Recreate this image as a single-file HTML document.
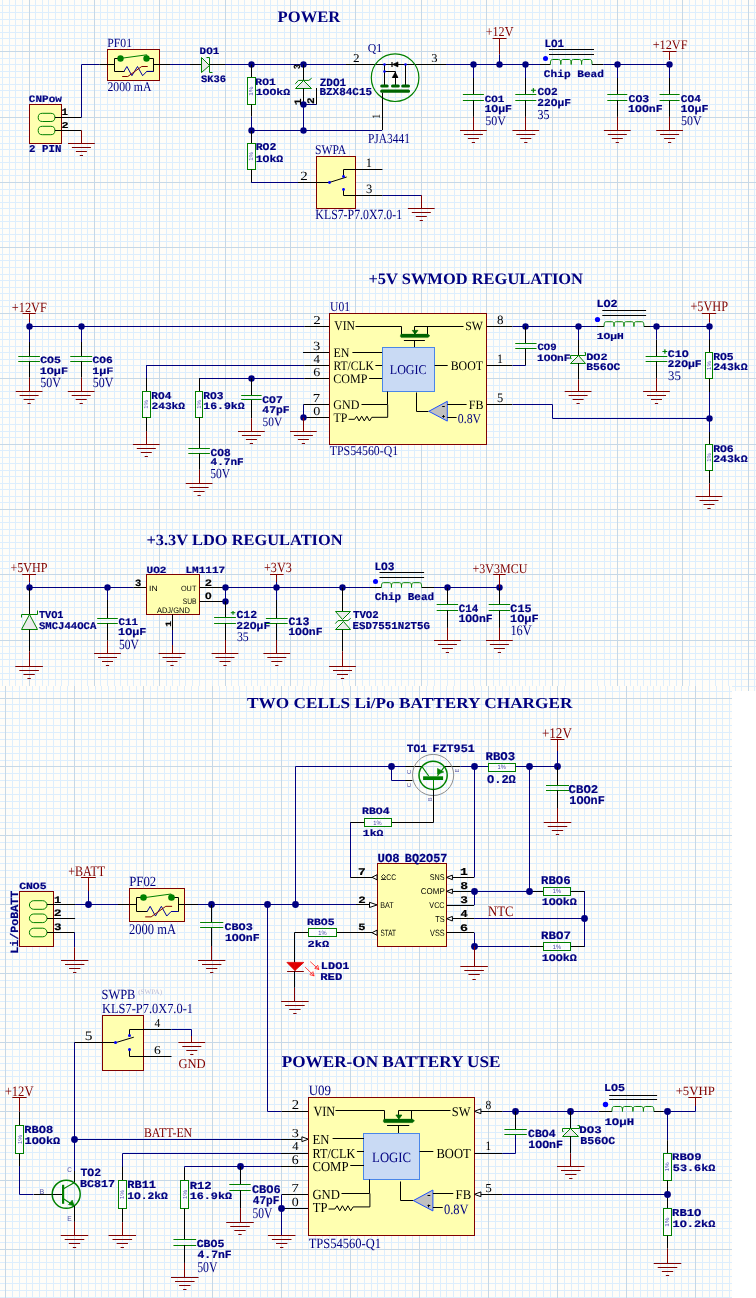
<!DOCTYPE html>
<html><head><meta charset="utf-8"><style>
html,body{margin:0;padding:0;background:#fff;overflow:hidden;}
svg{display:block;will-change:transform;}
</style></head><body>
<svg width="756" height="1298" viewBox="0 0 756 1298" shape-rendering="auto" text-rendering="geometricPrecision">
<rect x="0" y="0" width="756" height="1298" fill="#FFFFFF"/>
<rect x="0" y="0" width="756" height="691" fill="#FFFDF8"/>
<path d="M2.5 0V691M9.5 0V691M15.5 0V691M22.5 0V691M35.5 0V691M42.5 0V691M48.5 0V691M55.5 0V691M61.5 0V691M68.5 0V691M74.5 0V691M81.5 0V691M87.5 0V691M100.5 0V691M107.5 0V691M114.5 0V691M120.5 0V691M127.5 0V691M133.5 0V691M140.5 0V691M146.5 0V691M153.5 0V691M166.5 0V691M172.5 0V691M179.5 0V691M185.5 0V691M192.5 0V691M199.5 0V691M205.5 0V691M212.5 0V691M218.5 0V691M231.5 0V691M238.5 0V691M244.5 0V691M251.5 0V691M257.5 0V691M264.5 0V691M270.5 0V691M277.5 0V691M284.5 0V691M297.5 0V691M303.5 0V691M310.5 0V691M316.5 0V691M323.5 0V691M329.5 0V691M336.5 0V691M342.5 0V691M349.5 0V691M362.5 0V691M369.5 0V691M375.5 0V691M382.5 0V691M388.5 0V691M395.5 0V691M401.5 0V691M408.5 0V691M414.5 0V691M427.5 0V691M434.5 0V691M440.5 0V691M447.5 0V691M454.5 0V691M460.5 0V691M467.5 0V691M473.5 0V691M480.5 0V691M493.5 0V691M499.5 0V691M506.5 0V691M512.5 0V691M519.5 0V691M525.5 0V691M532.5 0V691M539.5 0V691M545.5 0V691M558.5 0V691M565.5 0V691M571.5 0V691M578.5 0V691M584.5 0V691M591.5 0V691M597.5 0V691M604.5 0V691M610.5 0V691M624.5 0V691M630.5 0V691M637.5 0V691M643.5 0V691M650.5 0V691M656.5 0V691M663.5 0V691M669.5 0V691M676.5 0V691M689.5 0V691M695.5 0V691M702.5 0V691M709.5 0V691M715.5 0V691M722.5 0V691M728.5 0V691M735.5 0V691M741.5 0V691M754.5 0V691M0 5.5H756M0 12.5H756M0 19.5H756M0 25.5H756M0 32.5H756M0 38.5H756M0 45.5H756M0 58.5H756M0 64.5H756M0 71.5H756M0 77.5H756M0 84.5H756M0 90.5H756M0 97.5H756M0 104.5H756M0 110.5H756M0 123.5H756M0 130.5H756M0 136.5H756M0 143.5H756M0 149.5H756M0 156.5H756M0 162.5H756M0 169.5H756M0 175.5H756M0 189.5H756M0 195.5H756M0 202.5H756M0 208.5H756M0 215.5H756M0 221.5H756M0 228.5H756M0 234.5H756M0 241.5H756M0 254.5H756M0 260.5H756M0 267.5H756M0 274.5H756M0 280.5H756M0 287.5H756M0 293.5H756M0 300.5H756M0 306.5H756M0 319.5H756M0 326.5H756M0 332.5H756M0 339.5H756M0 346.5H756M0 352.5H756M0 359.5H756M0 365.5H756M0 372.5H756M0 385.5H756M0 391.5H756M0 398.5H756M0 404.5H756M0 411.5H756M0 417.5H756M0 424.5H756M0 431.5H756M0 437.5H756M0 450.5H756M0 457.5H756M0 463.5H756M0 470.5H756M0 476.5H756M0 483.5H756M0 489.5H756M0 496.5H756M0 502.5H756M0 516.5H756M0 522.5H756M0 529.5H756M0 535.5H756M0 542.5H756M0 548.5H756M0 555.5H756M0 561.5H756M0 568.5H756M0 581.5H756M0 587.5H756M0 594.5H756M0 601.5H756M0 607.5H756M0 614.5H756M0 620.5H756M0 627.5H756M0 633.5H756M0 646.5H756M0 653.5H756M0 659.5H756M0 666.5H756M0 673.5H756M0 679.5H756M0 686.5H756" stroke="#DDEEFD" stroke-width="1" fill="none"/>
<path d="M29.5 0V691M94.5 0V691M159.5 0V691M225.5 0V691M290.5 0V691M355.5 0V691M421.5 0V691M486.5 0V691M552.5 0V691M617.5 0V691M682.5 0V691M748.5 0V691M0 51.5H756M0 117.5H756M0 182.5H756M0 247.5H756M0 313.5H756M0 378.5H756M0 444.5H756M0 509.5H756M0 574.5H756M0 640.5H756" stroke="#C6D8E7" stroke-width="1" fill="none"/>
<text transform="translate(277.62,21.8) scale(1.0357,1)" font-family="Liberation Serif" font-weight="bold" font-size="16.01" fill="#000080">POWER</text>
<rect x="29.5" y="104.5" width="32" height="39" stroke="#800000" stroke-width="1" fill="#FFFFB0"/>
<text transform="translate(28.87,101.9) scale(1.1143,1)" font-family="Liberation Mono" font-weight="bold" font-size="9.87" fill="#000080" stroke="#000080" stroke-width="0.2">CNPow</text>
<rect x="38.2" y="113.3" width="16.7" height="8.2" rx="4.1" stroke="#008000" fill="none" stroke-width="1"/>
<rect x="38.2" y="126.3" width="16.7" height="8.4" rx="4.1" stroke="#008000" fill="none" stroke-width="1"/>
<line x1="54.9" y1="117.5" x2="81.4" y2="117.5" stroke="#000000" stroke-width="1"/>
<text transform="translate(61.57,114.9) scale(1.1127,1)" font-family="Liberation Mono" font-weight="bold" font-size="9.72" fill="#000000" stroke="#000000" stroke-width="0.2">1</text>
<polyline points="81.5,117.5 81.5,64.5 99.5,64.5" stroke="#000080" stroke-width="1" fill="none" stroke-linejoin="miter"/>
<line x1="54.9" y1="130.5" x2="81.4" y2="130.5" stroke="#000000" stroke-width="1"/>
<text transform="translate(61.59,127.6) scale(1.3424,1)" font-family="Liberation Mono" font-weight="bold" font-size="8.82" fill="#000000" stroke="#000000" stroke-width="0.2">2</text>
<line x1="81.5" y1="130.4" x2="81.5" y2="143.2" stroke="#800000" stroke-width="1"/>
<line x1="68" y1="143.5" x2="94.8" y2="143.5" stroke="#800000" stroke-width="1"/>
<line x1="71.9" y1="147.5" x2="90.9" y2="147.5" stroke="#800000" stroke-width="1"/>
<line x1="75.9" y1="151.5" x2="86.9" y2="151.5" stroke="#800000" stroke-width="1"/>
<line x1="79.8" y1="155.5" x2="83" y2="155.5" stroke="#800000" stroke-width="1"/>
<text transform="translate(29.05,152) scale(1.0306,1)" font-family="Liberation Mono" font-weight="bold" font-size="10.46" fill="#000080" stroke="#000080" stroke-width="0.2">2 PIN</text>
<text transform="translate(107.26,47) scale(0.9385,1)" font-family="Liberation Serif" font-weight="normal" font-size="12.48" fill="#000080">PF01</text>
<rect x="107.5" y="49.5" width="52" height="31" stroke="#800000" stroke-width="1" fill="#FFFFB0"/>
<line x1="99.5" y1="64.5" x2="114.4" y2="64.5" stroke="#000000" stroke-width="1"/>
<polyline points="120.5,58.5 114.5,58.5 114.5,71.5 124.5,71.5" stroke="#000000" stroke-width="1" fill="none" stroke-linejoin="miter"/>
<polyline points="146.5,58.5 153.5,58.5 153.5,71.5 146.5,71.5" stroke="#000000" stroke-width="1" fill="none" stroke-linejoin="miter"/>
<line x1="153.5" y1="64.5" x2="170" y2="64.5" stroke="#000000" stroke-width="1"/>
<line x1="170" y1="64.5" x2="190" y2="64.5" stroke="#000080" stroke-width="1"/>
<line x1="190" y1="64.5" x2="201.2" y2="64.5" stroke="#000000" stroke-width="1"/>
<polyline points="120.4,58.4 146.8,54.8 146.8,56" stroke="#008000" stroke-width="1" fill="none" stroke-linejoin="miter"/>
<circle cx="120.5" cy="58.5" r="3.2" fill="#008000"/>
<circle cx="146.5" cy="58.5" r="3.2" fill="#008000"/>
<polyline points="124,71.4 126.9,66.5 131.9,75.7 137.5,66.5 142.6,75.7 146.8,71.4 153.5,71.4" stroke="#0000A0" stroke-width="1" fill="none" stroke-linejoin="miter"/>
<polyline points="122.2,76.5 127.8,76.5 141.7,66.5 147.7,66.5" stroke="#800000" stroke-width="1" fill="none" stroke-linejoin="miter"/>
<text transform="translate(107.38,90.6) scale(0.8888,1)" font-family="Liberation Serif" font-weight="normal" font-size="13.23" fill="#000080">2000 mA</text>
<polygon points="201.5,57.5 201.5,72.5 209.5,65.5" stroke="#008000" stroke-width="1" fill="#EBEBEB" stroke-linejoin="miter"/>
<polyline points="206.5,57.5 209.5,57.5 209.5,72.5 212.5,72.5" stroke="#008000" stroke-width="1" fill="none" stroke-linejoin="miter"/>
<text transform="translate(199.58,53.9) scale(1.1083,1)" font-family="Liberation Mono" font-weight="bold" font-size="9.87" fill="#000080" stroke="#000080" stroke-width="0.2">DO1</text>
<text transform="translate(201.01,82) scale(1.0544,1)" font-family="Liberation Mono" font-weight="bold" font-size="9.87" fill="#000080" stroke="#000080" stroke-width="0.2">SK36</text>
<line x1="209.6" y1="64.5" x2="225" y2="64.5" stroke="#000000" stroke-width="1"/>
<line x1="225" y1="64.5" x2="346" y2="64.5" stroke="#000080" stroke-width="1"/>
<circle cx="251.5" cy="64.5" r="3.2" fill="#000080"/>
<line x1="251.5" y1="64.5" x2="251.5" y2="77.4" stroke="#000000" stroke-width="1"/>
<rect x="247.5" y="77.5" width="8" height="27" stroke="#008000" stroke-width="1" fill="#FFFFFF" fill-opacity="0.6"/>
<text transform="translate(253.2,95.65) rotate(-90) scale(1.0700,1)" font-family="Liberation Sans" font-weight="normal" font-size="5.91" fill="#5C5CB8">1%</text>
<line x1="251.5" y1="104.5" x2="251.5" y2="116.7" stroke="#000000" stroke-width="1"/>
<line x1="251.5" y1="116.7" x2="251.5" y2="130" stroke="#000080" stroke-width="1"/>
<text transform="translate(255.34,85) scale(1.1509,1)" font-family="Liberation Mono" font-weight="bold" font-size="9.87" fill="#000080" stroke="#000080" stroke-width="0.2">RO1</text>
<text transform="translate(255.63,95) scale(1.2384,1)" font-family="Liberation Mono" font-weight="bold" font-size="9.25" fill="#000080" stroke="#000080" stroke-width="0.2">1OOkΩ</text>
<circle cx="251.5" cy="130.5" r="3.2" fill="#000080"/>
<line x1="251.5" y1="130" x2="251.5" y2="143" stroke="#000000" stroke-width="1"/>
<rect x="247.5" y="143.5" width="8" height="26" stroke="#008000" stroke-width="1" fill="#FFFFFF" fill-opacity="0.6"/>
<text transform="translate(253.2,160.84) rotate(-90) scale(1.0463,1)" font-family="Liberation Sans" font-weight="normal" font-size="5.91" fill="#5C5CB8">1%</text>
<line x1="251.5" y1="169.5" x2="251.5" y2="182.2" stroke="#000000" stroke-width="1"/>
<line x1="251.1" y1="182.5" x2="298" y2="182.5" stroke="#000080" stroke-width="1"/>
<text transform="translate(255.63,150.2) scale(1.1172,1)" font-family="Liberation Mono" font-weight="bold" font-size="10.31" fill="#000080" stroke="#000080" stroke-width="0.2">RO2</text>
<text transform="translate(255.63,161.5) scale(1.1718,1)" font-family="Liberation Mono" font-weight="bold" font-size="9.8" fill="#000080" stroke="#000080" stroke-width="0.2">1OkΩ</text>
<line x1="251.1" y1="130.5" x2="382.2" y2="130.5" stroke="#000080" stroke-width="1"/>
<circle cx="303.5" cy="64.5" r="3.2" fill="#000080"/>
<line x1="303.5" y1="64.6" x2="303.5" y2="80.4" stroke="#000000" stroke-width="1"/>
<polygon points="303.5,80.5 295.5,88.5 311.5,88.5" stroke="#008000" stroke-width="1" fill="#EBEBEB" stroke-linejoin="miter"/>
<polyline points="295.3,83.8 298.4,80.4 308.8,80.4 311.7,78.2" stroke="#008000" stroke-width="1" fill="none" stroke-linejoin="miter"/>
<line x1="303.5" y1="88.3" x2="303.5" y2="104.1" stroke="#000000" stroke-width="1"/>
<circle cx="303.5" cy="104.5" r="3.2" fill="#000080"/>
<line x1="303.5" y1="104.5" x2="316.6" y2="104.5" stroke="#000080" stroke-width="1"/>
<line x1="316.5" y1="104.5" x2="316.5" y2="88" stroke="#000000" stroke-width="1"/>
<line x1="303.5" y1="104.1" x2="303.5" y2="130" stroke="#000080" stroke-width="1"/>
<circle cx="303.5" cy="130.5" r="3.2" fill="#000080"/>
<text transform="translate(300.4,68.96) rotate(-90) scale(0.8565,1)" font-family="Liberation Mono" font-weight="bold" font-size="9.27" fill="#000000" stroke="#000000" stroke-width="0.2">3</text>
<text transform="translate(300.9,105.27) rotate(-90) scale(1.1757,1)" font-family="Liberation Mono" font-weight="bold" font-size="9.72" fill="#000000" stroke="#000000" stroke-width="0.2">1</text>
<text transform="translate(314.1,104.06) rotate(-90) scale(1.0991,1)" font-family="Liberation Mono" font-weight="bold" font-size="10.02" fill="#000000" stroke="#000000" stroke-width="0.2">2</text>
<text transform="translate(319.73,85.6) scale(0.9995,1)" font-family="Liberation Mono" font-weight="bold" font-size="11.06" fill="#000080" stroke="#000080" stroke-width="0.2">ZDO1</text>
<text transform="translate(319.47,95.4) scale(1.0323,1)" font-family="Liberation Mono" font-weight="bold" font-size="10.61" fill="#000080" stroke="#000080" stroke-width="0.2">BZX84C15</text>
<text transform="translate(367.82,51.8) scale(0.9745,1)" font-family="Liberation Serif" font-weight="normal" font-size="12.08" fill="#000080">Q1</text>
<line x1="346" y1="64.5" x2="446" y2="64.5" stroke="#000000" stroke-width="1"/>
<text transform="translate(353.12,62.3) scale(1.1081,1)" font-family="Liberation Serif" font-weight="normal" font-size="11.93" fill="#000000">2</text>
<text transform="translate(431.2,62.3) scale(1.0550,1)" font-family="Liberation Serif" font-weight="normal" font-size="11.93" fill="#000000">3</text>
<circle cx="395.1" cy="77.7" r="23.8" stroke="#008000" stroke-width="1.2" fill="none"/>
<line x1="384.5" y1="64.4" x2="384.5" y2="85.7" stroke="#000000" stroke-width="1"/>
<line x1="405.5" y1="64.4" x2="405.5" y2="85.7" stroke="#000000" stroke-width="1"/>
<line x1="395.5" y1="71.4" x2="395.5" y2="85.7" stroke="#000000" stroke-width="1"/>
<line x1="384.5" y1="71.5" x2="395.4" y2="71.5" stroke="#000000" stroke-width="1"/>
<circle cx="384.5" cy="64.5" r="1.3" fill="#0000FF"/>
<circle cx="405.5" cy="64.5" r="1.3" fill="#0000FF"/>
<circle cx="384.5" cy="71.5" r="1.3" fill="#0000FF"/>
<line x1="392" y1="62" x2="392" y2="67" stroke="#000000" stroke-width="1.2"/>
<polygon points="392.6,64.4 398,61.9 398,66.9" stroke="#000000" stroke-width="0.6" fill="#000000" stroke-linejoin="miter"/>
<polygon points="395.2,72.2 392.4,77.4 398,77.4" stroke="#000000" stroke-width="0.6" fill="#000000" stroke-linejoin="miter"/>
<line x1="392.4" y1="77.5" x2="398" y2="77.5" stroke="#000000" stroke-width="1"/>
<rect x="380.2" y="84.4" width="8.5" height="3.2" rx="1.5" fill="#006400"/>
<rect x="391" y="84.4" width="8.8" height="3.2" rx="1.5" fill="#006400"/>
<rect x="401.2" y="84.4" width="8.8" height="3.2" rx="1.5" fill="#006400"/>
<rect x="380.2" y="89.4" width="29.8" height="3.3" rx="1.5" fill="#006400"/>
<line x1="382.5" y1="92.7" x2="382.5" y2="130" stroke="#000000" stroke-width="1"/>
<text transform="translate(379.6,118.85) rotate(-90) scale(0.8389,1)" font-family="Liberation Serif" font-weight="normal" font-size="11.51" fill="#000000">1</text>
<text transform="translate(367.97,143) scale(0.8245,1)" font-family="Liberation Serif" font-weight="normal" font-size="13.89" fill="#000080">PJA3441</text>
<text transform="translate(314.92,154.4) scale(0.8765,1)" font-family="Liberation Serif" font-weight="normal" font-size="13.29" fill="#000080">SWPA</text>
<rect x="316.5" y="156.5" width="39" height="52" stroke="#800000" stroke-width="1" fill="#FFFFB0"/>
<line x1="298" y1="182.5" x2="329.6" y2="182.5" stroke="#000000" stroke-width="1"/>
<line x1="329.6" y1="182.4" x2="346.7" y2="177" stroke="#000000" stroke-width="1"/>
<polyline points="343.5,176.5 343.5,169.5 382.5,169.5" stroke="#000000" stroke-width="1" fill="none" stroke-linejoin="miter"/>
<polyline points="343.5,189.5 343.5,195.5 382.5,195.5" stroke="#000000" stroke-width="1" fill="none" stroke-linejoin="miter"/>
<line x1="382.4" y1="195.5" x2="421.3" y2="195.5" stroke="#000080" stroke-width="1"/>
<line x1="421.5" y1="195.2" x2="421.5" y2="208.1" stroke="#800000" stroke-width="1"/>
<line x1="407.9" y1="208.5" x2="434.7" y2="208.5" stroke="#800000" stroke-width="1"/>
<line x1="411.8" y1="212.5" x2="430.8" y2="212.5" stroke="#800000" stroke-width="1"/>
<line x1="415.8" y1="216.5" x2="426.8" y2="216.5" stroke="#800000" stroke-width="1"/>
<line x1="419.7" y1="220.5" x2="422.9" y2="220.5" stroke="#800000" stroke-width="1"/>
<circle cx="329.5" cy="182.5" r="1.4" fill="#0000FF"/>
<circle cx="343.5" cy="176.5" r="1.4" fill="#0000FF"/>
<circle cx="343.5" cy="189.5" r="1.4" fill="#0000FF"/>
<text transform="translate(365.8,166.9) scale(0.9822,1)" font-family="Liberation Serif" font-weight="normal" font-size="12.72" fill="#000000">1</text>
<text transform="translate(366.1,192.8) scale(0.9922,1)" font-family="Liberation Serif" font-weight="normal" font-size="12.69" fill="#000000">3</text>
<text transform="translate(300.34,179.8) scale(1.1940,1)" font-family="Liberation Serif" font-weight="normal" font-size="12.54" fill="#000000">2</text>
<text transform="translate(315.36,218.7) scale(0.8469,1)" font-family="Liberation Serif" font-weight="normal" font-size="13.98" fill="#000080">KLS7-P7.0X7.0-1</text>
<line x1="446" y1="64.5" x2="540" y2="64.5" stroke="#000080" stroke-width="1"/>
<text transform="translate(485.7,36.4) scale(0.8927,1)" font-family="Liberation Serif" font-weight="normal" font-size="13.59" fill="#800000">+12V</text>
<line x1="492.6" y1="38.5" x2="506.6" y2="38.5" stroke="#800000" stroke-width="1"/>
<line x1="499.5" y1="38.5" x2="499.5" y2="54.4" stroke="#800000" stroke-width="1"/>
<line x1="499.5" y1="54.4" x2="499.5" y2="64.6" stroke="#000080" stroke-width="1"/>
<circle cx="473.5" cy="64.5" r="3.2" fill="#000080"/>
<circle cx="499.5" cy="64.5" r="3.2" fill="#000080"/>
<circle cx="525.5" cy="64.5" r="3.2" fill="#000080"/>
<line x1="473.5" y1="64.6" x2="473.5" y2="78" stroke="#000080" stroke-width="1"/>
<line x1="473.5" y1="78" x2="473.5" y2="94.3" stroke="#000000" stroke-width="1"/>
<line x1="462.9" y1="94.5" x2="483.9" y2="94.5" stroke="#008000" stroke-width="1"/>
<line x1="462.9" y1="100.5" x2="483.9" y2="100.5" stroke="#008000" stroke-width="1"/>
<line x1="473.5" y1="100.4" x2="473.5" y2="116.9" stroke="#000000" stroke-width="1"/>
<line x1="473.5" y1="116.9" x2="473.5" y2="130.4" stroke="#800000" stroke-width="1"/>
<line x1="460" y1="130.5" x2="486.8" y2="130.5" stroke="#800000" stroke-width="1"/>
<line x1="463.9" y1="134.5" x2="482.9" y2="134.5" stroke="#800000" stroke-width="1"/>
<line x1="467.9" y1="138.5" x2="478.9" y2="138.5" stroke="#800000" stroke-width="1"/>
<line x1="471.8" y1="142.5" x2="475" y2="142.5" stroke="#800000" stroke-width="1"/>
<text transform="translate(484.78,101.8) scale(1.1491,1)" font-family="Liberation Mono" font-weight="bold" font-size="9.42" fill="#000080" stroke="#000080" stroke-width="0.2">CO1</text>
<text transform="translate(484.43,112.1) scale(1.0819,1)" font-family="Liberation Mono" font-weight="bold" font-size="10.61" fill="#000080" stroke="#000080" stroke-width="0.2">1OμF</text>
<text transform="translate(485.3,124.8) scale(0.9157,1)" font-family="Liberation Serif" font-weight="normal" font-size="13.08" fill="#000080">50V</text>
<line x1="525.5" y1="64.6" x2="525.5" y2="78" stroke="#000080" stroke-width="1"/>
<line x1="525.5" y1="78" x2="525.5" y2="94.3" stroke="#000000" stroke-width="1"/>
<line x1="515.3" y1="94.5" x2="536.3" y2="94.5" stroke="#008000" stroke-width="1"/>
<line x1="515.3" y1="100.5" x2="536.3" y2="100.5" stroke="#008000" stroke-width="1"/>
<line x1="525.5" y1="100.4" x2="525.5" y2="116.9" stroke="#000000" stroke-width="1"/>
<line x1="525.5" y1="116.9" x2="525.5" y2="130.4" stroke="#800000" stroke-width="1"/>
<line x1="512.4" y1="130.5" x2="539.2" y2="130.5" stroke="#800000" stroke-width="1"/>
<line x1="516.3" y1="134.5" x2="535.3" y2="134.5" stroke="#800000" stroke-width="1"/>
<line x1="520.3" y1="138.5" x2="531.3" y2="138.5" stroke="#800000" stroke-width="1"/>
<line x1="524.2" y1="142.5" x2="527.4" y2="142.5" stroke="#800000" stroke-width="1"/>
<text transform="translate(530.86,93.3) scale(1.1197,1)" font-family="Liberation Mono" font-weight="bold" font-size="8.01" fill="#008000" stroke="#008000" stroke-width="0.2">+</text>
<text transform="translate(537.56,95.4) scale(1.0514,1)" font-family="Liberation Mono" font-weight="bold" font-size="10.61" fill="#000080" stroke="#000080" stroke-width="0.2">CO2</text>
<text transform="translate(537.33,105.9) scale(1.0533,1)" font-family="Liberation Mono" font-weight="bold" font-size="10.61" fill="#000080" stroke="#000080" stroke-width="0.2">22OμF</text>
<text transform="translate(537.42,119.2) scale(0.8863,1)" font-family="Liberation Serif" font-weight="normal" font-size="13.59" fill="#000080">35</text>
<text transform="translate(544.48,46.5) scale(0.9702,1)" font-family="Liberation Mono" font-weight="bold" font-size="11.21" fill="#000080" stroke="#000080" stroke-width="0.2">LO1</text>
<line x1="549" y1="49.5" x2="594" y2="49.5" stroke="#000000" stroke-width="1"/>
<line x1="549" y1="54.5" x2="594" y2="54.5" stroke="#000000" stroke-width="1"/>
<circle cx="545.5" cy="58.5" r="2.5" fill="#0000FF"/>
<line x1="540" y1="64.5" x2="550.4" y2="64.5" stroke="#000000" stroke-width="1"/>
<path d="M550.4 64.5 c0 -3.99 0.52 -4.99 2.29 -4.99 l5.82 0 c1.77 0 2.29 1 2.29 4.99 c0 -3.99 0.52 -4.99 2.29 -4.99 l5.82 0 c1.77 0 2.29 1 2.29 4.99 c0 -3.99 0.52 -4.99 2.29 -4.99 l5.82 0 c1.77 0 2.29 1 2.29 4.99 c0 -3.99 0.52 -4.99 2.29 -4.99 l5.82 0 c1.77 0 2.29 1 2.29 4.99" stroke="#008000" stroke-width="1" fill="none"/>
<line x1="592" y1="64.5" x2="603.3" y2="64.5" stroke="#000000" stroke-width="1"/>
<line x1="603.3" y1="64.5" x2="669.6" y2="64.5" stroke="#000080" stroke-width="1"/>
<text transform="translate(543.86,76.7) scale(1.1217,1)" font-family="Liberation Mono" font-weight="bold" font-size="9.94" fill="#000080" stroke="#000080" stroke-width="0.2">Chip Bead</text>
<line x1="617.5" y1="64.6" x2="617.5" y2="78" stroke="#000080" stroke-width="1"/>
<line x1="617.5" y1="78" x2="617.5" y2="94.5" stroke="#000000" stroke-width="1"/>
<line x1="607.3" y1="94.5" x2="627.3" y2="94.5" stroke="#008000" stroke-width="1"/>
<line x1="607.3" y1="100.5" x2="627.3" y2="100.5" stroke="#008000" stroke-width="1"/>
<line x1="617.5" y1="100.3" x2="617.5" y2="116.9" stroke="#000000" stroke-width="1"/>
<line x1="617.5" y1="116.9" x2="617.5" y2="130.4" stroke="#800000" stroke-width="1"/>
<line x1="603.9" y1="130.5" x2="630.7" y2="130.5" stroke="#800000" stroke-width="1"/>
<line x1="607.8" y1="134.5" x2="626.8" y2="134.5" stroke="#800000" stroke-width="1"/>
<line x1="611.8" y1="138.5" x2="622.8" y2="138.5" stroke="#800000" stroke-width="1"/>
<line x1="615.7" y1="142.5" x2="618.9" y2="142.5" stroke="#800000" stroke-width="1"/>
<text transform="translate(628.45,102) scale(1.1062,1)" font-family="Liberation Mono" font-weight="bold" font-size="10.46" fill="#000080" stroke="#000080" stroke-width="0.2">CO3</text>
<text transform="translate(628.12,112) scale(1.1010,1)" font-family="Liberation Mono" font-weight="bold" font-size="10.46" fill="#000080" stroke="#000080" stroke-width="0.2">1OOnF</text>
<line x1="669.5" y1="64.6" x2="669.5" y2="78" stroke="#000080" stroke-width="1"/>
<line x1="669.5" y1="78" x2="669.5" y2="94.5" stroke="#000000" stroke-width="1"/>
<line x1="659.6" y1="94.5" x2="679.6" y2="94.5" stroke="#008000" stroke-width="1"/>
<line x1="659.6" y1="100.5" x2="679.6" y2="100.5" stroke="#008000" stroke-width="1"/>
<line x1="669.5" y1="100.3" x2="669.5" y2="116.9" stroke="#000000" stroke-width="1"/>
<line x1="669.5" y1="116.9" x2="669.5" y2="130.4" stroke="#800000" stroke-width="1"/>
<line x1="656.2" y1="130.5" x2="683" y2="130.5" stroke="#800000" stroke-width="1"/>
<line x1="660.1" y1="134.5" x2="679.1" y2="134.5" stroke="#800000" stroke-width="1"/>
<line x1="664.1" y1="138.5" x2="675.1" y2="138.5" stroke="#800000" stroke-width="1"/>
<line x1="668" y1="142.5" x2="671.2" y2="142.5" stroke="#800000" stroke-width="1"/>
<text transform="translate(680.86,102) scale(1.0652,1)" font-family="Liberation Mono" font-weight="bold" font-size="10.46" fill="#000080" stroke="#000080" stroke-width="0.2">CO4</text>
<text transform="translate(680.52,112) scale(1.1100,1)" font-family="Liberation Mono" font-weight="bold" font-size="10.46" fill="#000080" stroke="#000080" stroke-width="0.2">1OμF</text>
<text transform="translate(681,124.8) scale(0.9053,1)" font-family="Liberation Serif" font-weight="normal" font-size="13.23" fill="#000080">50V</text>
<circle cx="617.5" cy="64.5" r="3.2" fill="#000080"/>
<circle cx="669.5" cy="64.5" r="3.2" fill="#000080"/>
<text transform="translate(652.69,49.1) scale(0.9441,1)" font-family="Liberation Serif" font-weight="normal" font-size="12.99" fill="#800000">+12VF</text>
<line x1="662.6" y1="51.5" x2="676.6" y2="51.5" stroke="#800000" stroke-width="1"/>
<line x1="669.5" y1="51.4" x2="669.5" y2="60" stroke="#800000" stroke-width="1"/>
<text transform="translate(368.43,283.8) scale(1.0380,1)" font-family="Liberation Serif" font-weight="bold" font-size="15.86" fill="#000080">+5V SWMOD REGULATION</text>
<text transform="translate(11.79,311.6) scale(0.8756,1)" font-family="Liberation Serif" font-weight="normal" font-size="14.05" fill="#800000">+12VF</text>
<line x1="22.5" y1="313.5" x2="35.7" y2="313.5" stroke="#800000" stroke-width="1"/>
<line x1="29.5" y1="313.7" x2="29.5" y2="322.2" stroke="#800000" stroke-width="1"/>
<line x1="29.5" y1="322.2" x2="29.5" y2="326.4" stroke="#000080" stroke-width="1"/>
<line x1="29.1" y1="326.5" x2="304.3" y2="326.5" stroke="#000080" stroke-width="1"/>
<line x1="304.3" y1="326.5" x2="329.5" y2="326.5" stroke="#000000" stroke-width="1"/>
<circle cx="29.5" cy="326.5" r="3.2" fill="#000080"/>
<circle cx="81.5" cy="326.5" r="3.2" fill="#000080"/>
<line x1="29.5" y1="326.4" x2="29.5" y2="342" stroke="#000080" stroke-width="1"/>
<line x1="29.5" y1="342" x2="29.5" y2="356.6" stroke="#000000" stroke-width="1"/>
<line x1="18.25" y1="356.5" x2="39.95" y2="356.5" stroke="#008000" stroke-width="1"/>
<line x1="18.25" y1="361.5" x2="39.95" y2="361.5" stroke="#008000" stroke-width="1"/>
<line x1="29.5" y1="361.3" x2="29.5" y2="377.7" stroke="#000000" stroke-width="1"/>
<line x1="29.5" y1="377.7" x2="29.5" y2="391.2" stroke="#800000" stroke-width="1"/>
<line x1="15.7" y1="391.5" x2="42.5" y2="391.5" stroke="#800000" stroke-width="1"/>
<line x1="19.6" y1="395.5" x2="38.6" y2="395.5" stroke="#800000" stroke-width="1"/>
<line x1="23.6" y1="399.5" x2="34.6" y2="399.5" stroke="#800000" stroke-width="1"/>
<line x1="27.5" y1="403.5" x2="30.7" y2="403.5" stroke="#800000" stroke-width="1"/>
<text transform="translate(40.15,363.3) scale(1.2045,1)" font-family="Liberation Mono" font-weight="bold" font-size="9.57" fill="#000080" stroke="#000080" stroke-width="0.2">CO5</text>
<text transform="translate(39.81,373.9) scale(1.2044,1)" font-family="Liberation Mono" font-weight="bold" font-size="9.72" fill="#000080" stroke="#000080" stroke-width="0.2">1OμF</text>
<text transform="translate(40.3,387) scale(0.8566,1)" font-family="Liberation Serif" font-weight="normal" font-size="13.98" fill="#000080">50V</text>
<line x1="81.5" y1="326.4" x2="81.5" y2="342" stroke="#000080" stroke-width="1"/>
<line x1="81.5" y1="342" x2="81.5" y2="356.6" stroke="#000000" stroke-width="1"/>
<line x1="70.25" y1="356.5" x2="92.15" y2="356.5" stroke="#008000" stroke-width="1"/>
<line x1="70.25" y1="361.5" x2="92.15" y2="361.5" stroke="#008000" stroke-width="1"/>
<line x1="81.5" y1="361.3" x2="81.5" y2="377.7" stroke="#000000" stroke-width="1"/>
<line x1="81.5" y1="377.7" x2="81.5" y2="391.2" stroke="#800000" stroke-width="1"/>
<line x1="67.8" y1="391.5" x2="94.6" y2="391.5" stroke="#800000" stroke-width="1"/>
<line x1="71.7" y1="395.5" x2="90.7" y2="395.5" stroke="#800000" stroke-width="1"/>
<line x1="75.7" y1="399.5" x2="86.7" y2="399.5" stroke="#800000" stroke-width="1"/>
<line x1="79.6" y1="403.5" x2="82.8" y2="403.5" stroke="#800000" stroke-width="1"/>
<text transform="translate(92.56,363.3) scale(1.1766,1)" font-family="Liberation Mono" font-weight="bold" font-size="9.57" fill="#000080" stroke="#000080" stroke-width="0.2">CO6</text>
<text transform="translate(92.21,373.9) scale(1.1873,1)" font-family="Liberation Mono" font-weight="bold" font-size="9.87" fill="#000080" stroke="#000080" stroke-width="0.2">1μF</text>
<text transform="translate(92.7,387) scale(0.8566,1)" font-family="Liberation Serif" font-weight="normal" font-size="13.98" fill="#000080">50V</text>
<line x1="303" y1="352.5" x2="329.5" y2="352.5" stroke="#000000" stroke-width="1"/>
<line x1="146.3" y1="365.5" x2="304.3" y2="365.5" stroke="#000080" stroke-width="1"/>
<line x1="304.3" y1="365.5" x2="329.5" y2="365.5" stroke="#000000" stroke-width="1"/>
<line x1="146.5" y1="365.2" x2="146.5" y2="378" stroke="#000080" stroke-width="1"/>
<line x1="146.5" y1="378" x2="146.5" y2="391.4" stroke="#000000" stroke-width="1"/>
<rect x="142.5" y="391.5" width="8" height="26" stroke="#008000" stroke-width="1" fill="#FFFFFF" fill-opacity="0.6"/>
<text transform="translate(148.4,408.84) rotate(-90) scale(1.0226,1)" font-family="Liberation Sans" font-weight="normal" font-size="5.91" fill="#5C5CB8">1%</text>
<line x1="146.5" y1="417.3" x2="146.5" y2="431.1" stroke="#000000" stroke-width="1"/>
<line x1="146.5" y1="431.1" x2="146.5" y2="444.2" stroke="#800000" stroke-width="1"/>
<line x1="132.9" y1="444.5" x2="159.7" y2="444.5" stroke="#800000" stroke-width="1"/>
<line x1="136.8" y1="448.5" x2="155.8" y2="448.5" stroke="#800000" stroke-width="1"/>
<line x1="140.8" y1="452.5" x2="151.8" y2="452.5" stroke="#800000" stroke-width="1"/>
<line x1="144.7" y1="456.5" x2="147.9" y2="456.5" stroke="#800000" stroke-width="1"/>
<text transform="translate(151.36,398.9) scale(1.0602,1)" font-family="Liberation Mono" font-weight="bold" font-size="10.46" fill="#000080" stroke="#000080" stroke-width="0.2">RO4</text>
<text transform="translate(151.43,409.2) scale(1.1610,1)" font-family="Liberation Mono" font-weight="bold" font-size="9.66" fill="#000080" stroke="#000080" stroke-width="0.2">243kΩ</text>
<line x1="199.1" y1="378.5" x2="304.3" y2="378.5" stroke="#000080" stroke-width="1"/>
<line x1="304.3" y1="378.5" x2="329.5" y2="378.5" stroke="#000000" stroke-width="1"/>
<line x1="199.5" y1="378.2" x2="199.5" y2="391.4" stroke="#000000" stroke-width="1"/>
<rect x="195.5" y="391.5" width="7" height="26" stroke="#008000" stroke-width="1" fill="#FFFFFF" fill-opacity="0.6"/>
<text transform="translate(201.1,408.84) rotate(-90) scale(1.0226,1)" font-family="Liberation Sans" font-weight="normal" font-size="5.91" fill="#5C5CB8">1%</text>
<line x1="199.5" y1="417.3" x2="199.5" y2="448.4" stroke="#000000" stroke-width="1"/>
<line x1="188.3" y1="448.5" x2="209.9" y2="448.5" stroke="#008000" stroke-width="1"/>
<line x1="188.3" y1="453.5" x2="209.9" y2="453.5" stroke="#008000" stroke-width="1"/>
<line x1="199.5" y1="453.5" x2="199.5" y2="469.8" stroke="#000000" stroke-width="1"/>
<line x1="199.5" y1="469.8" x2="199.5" y2="483.3" stroke="#800000" stroke-width="1"/>
<line x1="185.7" y1="483.5" x2="212.5" y2="483.5" stroke="#800000" stroke-width="1"/>
<line x1="189.6" y1="487.5" x2="208.6" y2="487.5" stroke="#800000" stroke-width="1"/>
<line x1="193.6" y1="491.5" x2="204.6" y2="491.5" stroke="#800000" stroke-width="1"/>
<line x1="197.5" y1="495.5" x2="200.7" y2="495.5" stroke="#800000" stroke-width="1"/>
<text transform="translate(203.35,398.9) scale(1.0734,1)" font-family="Liberation Mono" font-weight="bold" font-size="10.46" fill="#000080" stroke="#000080" stroke-width="0.2">RO3</text>
<text transform="translate(203.33,409.2) scale(1.1861,1)" font-family="Liberation Mono" font-weight="bold" font-size="9.66" fill="#000080" stroke="#000080" stroke-width="0.2">16.9kΩ</text>
<text transform="translate(210.46,455.5) scale(1.0536,1)" font-family="Liberation Mono" font-weight="bold" font-size="10.61" fill="#000080" stroke="#000080" stroke-width="0.2">CO8</text>
<text transform="translate(210.52,465.2) scale(1.0894,1)" font-family="Liberation Mono" font-weight="bold" font-size="10.17" fill="#000080" stroke="#000080" stroke-width="0.2">4.7nF</text>
<text transform="translate(210.23,478.1) scale(0.8353,1)" font-family="Liberation Serif" font-weight="normal" font-size="13.83" fill="#000080">50V</text>
<circle cx="251.5" cy="378.5" r="3.2" fill="#000080"/>
<line x1="251.5" y1="378.2" x2="251.5" y2="395.2" stroke="#000000" stroke-width="1"/>
<line x1="241.2" y1="395.5" x2="261.6" y2="395.5" stroke="#008000" stroke-width="1"/>
<line x1="241.2" y1="399.5" x2="261.6" y2="399.5" stroke="#008000" stroke-width="1"/>
<line x1="251.5" y1="399.9" x2="251.5" y2="418.3" stroke="#000000" stroke-width="1"/>
<line x1="251.5" y1="418.3" x2="251.5" y2="431.1" stroke="#800000" stroke-width="1"/>
<line x1="238" y1="431.5" x2="264.8" y2="431.5" stroke="#800000" stroke-width="1"/>
<line x1="241.9" y1="435.5" x2="260.9" y2="435.5" stroke="#800000" stroke-width="1"/>
<line x1="245.9" y1="439.5" x2="256.9" y2="439.5" stroke="#800000" stroke-width="1"/>
<line x1="249.8" y1="443.5" x2="253" y2="443.5" stroke="#800000" stroke-width="1"/>
<text transform="translate(262.26,403.2) scale(1.1206,1)" font-family="Liberation Mono" font-weight="bold" font-size="10.17" fill="#000080" stroke="#000080" stroke-width="0.2">CO7</text>
<text transform="translate(262.3,413.3) scale(1.1049,1)" font-family="Liberation Mono" font-weight="bold" font-size="10.32" fill="#000080" stroke="#000080" stroke-width="0.2">47pF</text>
<text transform="translate(262.54,425.8) scale(0.8899,1)" font-family="Liberation Serif" font-weight="normal" font-size="12.78" fill="#000080">50V</text>
<line x1="303.4" y1="404.5" x2="329.5" y2="404.5" stroke="#000000" stroke-width="1"/>
<line x1="303.4" y1="417.5" x2="329.5" y2="417.5" stroke="#000000" stroke-width="1"/>
<line x1="303.5" y1="404.6" x2="303.5" y2="417.8" stroke="#000080" stroke-width="1"/>
<circle cx="303.5" cy="417.5" r="3.2" fill="#000080"/>
<line x1="303.5" y1="417.8" x2="303.5" y2="431.1" stroke="#800000" stroke-width="1"/>
<line x1="290" y1="431.5" x2="316.8" y2="431.5" stroke="#800000" stroke-width="1"/>
<line x1="293.9" y1="435.5" x2="312.9" y2="435.5" stroke="#800000" stroke-width="1"/>
<line x1="297.9" y1="439.5" x2="308.9" y2="439.5" stroke="#800000" stroke-width="1"/>
<line x1="301.8" y1="443.5" x2="305" y2="443.5" stroke="#800000" stroke-width="1"/>
<text transform="translate(313.14,324.4) scale(1.2544,1)" font-family="Liberation Serif" font-weight="normal" font-size="11.93" fill="#000000">2</text>
<text transform="translate(313.1,350.1) scale(1.1587,1)" font-family="Liberation Serif" font-weight="normal" font-size="12.54" fill="#000000">3</text>
<text transform="translate(313.55,362.8) scale(1.0620,1)" font-family="Liberation Serif" font-weight="normal" font-size="12.15" fill="#000000">4</text>
<text transform="translate(313.2,376) scale(1.1623,1)" font-family="Liberation Serif" font-weight="normal" font-size="12.08" fill="#000000">6</text>
<text transform="translate(312.82,401.9) scale(1.2117,1)" font-family="Liberation Serif" font-weight="normal" font-size="12.22" fill="#000000">7</text>
<text transform="translate(313.26,414.6) scale(1.1623,1)" font-family="Liberation Serif" font-weight="normal" font-size="12.18" fill="#000000">0</text>
<rect x="329.5" y="313.5" width="157" height="131" stroke="#800000" stroke-width="1" fill="#FFFFB0"/>
<text transform="translate(329.79,455.3) scale(0.8849,1)" font-family="Liberation Serif" font-weight="normal" font-size="13.38" fill="#000080">TPS54560-Q1</text>
<text transform="translate(334.27,330) scale(0.8722,1)" font-family="Liberation Serif" font-weight="normal" font-size="13.29" fill="#000000">VIN</text>
<text transform="translate(333.45,356.9) scale(0.9151,1)" font-family="Liberation Serif" font-weight="normal" font-size="13.13" fill="#000000">EN</text>
<text transform="translate(333.47,369.8) scale(0.8911,1)" font-family="Liberation Serif" font-weight="normal" font-size="12.99" fill="#000000">RT/CLK</text>
<text transform="translate(333.31,382.8) scale(0.9283,1)" font-family="Liberation Serif" font-weight="normal" font-size="12.99" fill="#000000">COMP</text>
<text transform="translate(333.31,408.7) scale(0.9160,1)" font-family="Liberation Serif" font-weight="normal" font-size="13.14" fill="#000000">GND</text>
<text transform="translate(333.58,421.6) scale(0.9063,1)" font-family="Liberation Serif" font-weight="normal" font-size="13.13" fill="#000000">TP</text>
<text transform="translate(465.21,330) scale(0.9420,1)" font-family="Liberation Serif" font-weight="normal" font-size="12.54" fill="#000000">SW</text>
<text transform="translate(450.66,370) scale(0.9070,1)" font-family="Liberation Serif" font-weight="normal" font-size="13.14" fill="#000000">BOOT</text>
<text transform="translate(468.75,408.9) scale(0.9504,1)" font-family="Liberation Serif" font-weight="normal" font-size="12.68" fill="#000000">FB</text>
<text transform="translate(457.75,422.8) scale(0.8860,1)" font-family="Liberation Serif" font-weight="normal" font-size="13.38" fill="#000080">0.8V</text>
<polyline points="355.5,326.5 401.5,326.5 401.5,334.5" stroke="#000000" stroke-width="1" fill="none" stroke-linejoin="miter"/>
<polyline points="463.5,326.5 414.5,326.5 414.5,334.5" stroke="#000000" stroke-width="1" fill="none" stroke-linejoin="miter"/>
<line x1="427.5" y1="326.5" x2="427.5" y2="334.5" stroke="#000000" stroke-width="1"/>
<polygon points="400.4,335 401.2,334.1 428,334.1 430,335.85 428,337.6 401.2,337.6 400.4,336.7" stroke="#006400" stroke-width="0.3" fill="#006400" stroke-linejoin="miter"/>
<polygon points="412.3,330.4 417.9,330.4 415.1,334.1" stroke="#006400" stroke-width="0.8" fill="#006400" stroke-linejoin="miter"/>
<line x1="403.9" y1="340.5" x2="424.9" y2="340.5" stroke="#000000" stroke-width="1"/>
<line x1="414.5" y1="340.3" x2="414.5" y2="347.4" stroke="#000000" stroke-width="1"/>
<rect x="382.5" y="347.5" width="52" height="44" stroke="#4A86E8" stroke-width="1" fill="#C9DAF4"/>
<text transform="translate(389.75,373.9) scale(0.8989,1)" font-family="Liberation Serif" font-weight="normal" font-size="13.44" fill="#000080">LOGIC</text>
<line x1="352.4" y1="352.5" x2="382.1" y2="352.5" stroke="#000000" stroke-width="1"/>
<line x1="375.4" y1="365.5" x2="382.1" y2="365.5" stroke="#000000" stroke-width="1"/>
<line x1="369.1" y1="378.5" x2="382.1" y2="378.5" stroke="#000000" stroke-width="1"/>
<polyline points="361.5,404.5 387.5,404.5 387.5,391.5" stroke="#000000" stroke-width="1" fill="none" stroke-linejoin="miter"/>
<polyline points="348.6,419.3 354.6,419.3 356.7,416.2 359.1,421 361.7,416.2 364.3,421 366.9,416.2 369.5,421 371.8,417.3 387.7,417.3 387.7,404.6" stroke="#000000" stroke-width="1" fill="none" stroke-linejoin="miter"/>
<line x1="434.7" y1="365.5" x2="447.7" y2="365.5" stroke="#000000" stroke-width="1"/>
<polyline points="416.5,392.5 416.5,411.5 428.5,411.5" stroke="#000000" stroke-width="1" fill="none" stroke-linejoin="miter"/>
<polygon points="428.8,411.3 447.3,401.3 447.3,421.1" stroke="#1E50FF" stroke-width="1" fill="#C0C0C0" stroke-linejoin="miter"/>
<line x1="442.2" y1="406.5" x2="444.8" y2="406.5" stroke="#000000" stroke-width="1"/>
<line x1="442.2" y1="416.5" x2="444.8" y2="416.5" stroke="#000000" stroke-width="1"/>
<line x1="443.5" y1="415.1" x2="443.5" y2="417.7" stroke="#000000" stroke-width="1"/>
<line x1="447.3" y1="404.5" x2="466.6" y2="404.5" stroke="#000000" stroke-width="1"/>
<line x1="447.3" y1="417.5" x2="456.6" y2="417.5" stroke="#000000" stroke-width="1"/>
<text transform="translate(330.06,311.2) scale(0.8555,1)" font-family="Liberation Serif" font-weight="normal" font-size="13.53" fill="#000080">U01</text>
<line x1="486.6" y1="326.5" x2="512.4" y2="326.5" stroke="#000000" stroke-width="1"/>
<line x1="512.4" y1="326.5" x2="597" y2="326.5" stroke="#000080" stroke-width="1"/>
<line x1="597" y1="326.5" x2="604.1" y2="326.5" stroke="#000000" stroke-width="1"/>
<line x1="486.6" y1="365.5" x2="512.4" y2="365.5" stroke="#000000" stroke-width="1"/>
<polyline points="512.5,365.5 525.5,365.5 525.5,348.5" stroke="#000080" stroke-width="1" fill="none" stroke-linejoin="miter"/>
<line x1="486.6" y1="404.5" x2="512.4" y2="404.5" stroke="#000000" stroke-width="1"/>
<polyline points="512.5,404.5 552.5,404.5 552.5,418.5 709.5,418.5" stroke="#000080" stroke-width="1" fill="none" stroke-linejoin="miter"/>
<text transform="translate(497.11,324.1) scale(1.0274,1)" font-family="Liberation Serif" font-weight="normal" font-size="12.63" fill="#000000">8</text>
<text transform="translate(496.95,363) scale(0.9376,1)" font-family="Liberation Serif" font-weight="normal" font-size="12.72" fill="#000000">1</text>
<text transform="translate(496.88,401.9) scale(0.9675,1)" font-family="Liberation Serif" font-weight="normal" font-size="12.83" fill="#000000">5</text>
<circle cx="525.5" cy="326.5" r="3.2" fill="#000080"/>
<line x1="525.5" y1="326.5" x2="525.5" y2="343.5" stroke="#000000" stroke-width="1"/>
<line x1="515.25" y1="343.5" x2="536.55" y2="343.5" stroke="#008000" stroke-width="1"/>
<line x1="515.25" y1="348.5" x2="536.55" y2="348.5" stroke="#008000" stroke-width="1"/>
<line x1="525.5" y1="348.5" x2="525.5" y2="365.2" stroke="#000000" stroke-width="1"/>
<text transform="translate(537.38,350) scale(1.0950,1)" font-family="Liberation Mono" font-weight="bold" font-size="9.72" fill="#000080" stroke="#000080" stroke-width="0.2">CO9</text>
<text transform="translate(537.05,361.1) scale(1.1463,1)" font-family="Liberation Mono" font-weight="bold" font-size="9.72" fill="#000080" stroke="#000080" stroke-width="0.2">1OOnF</text>
<circle cx="578.5" cy="326.5" r="3.2" fill="#000080"/>
<line x1="578.5" y1="326.5" x2="578.5" y2="340" stroke="#000080" stroke-width="1"/>
<line x1="578.5" y1="340" x2="578.5" y2="355.2" stroke="#000000" stroke-width="1"/>
<polygon points="578.5,355.5 570.5,363.5 585.5,363.5" stroke="#008000" stroke-width="1" fill="#EBEBEB" stroke-linejoin="miter"/>
<polyline points="571.5,358.5 570.5,358.5 570.5,355.5 585.5,355.5 585.5,352.5 584.5,352.5" stroke="#008000" stroke-width="1" fill="none" stroke-linejoin="miter"/>
<line x1="578.5" y1="363" x2="578.5" y2="379.6" stroke="#000000" stroke-width="1"/>
<line x1="578.5" y1="379.6" x2="578.5" y2="391.1" stroke="#800000" stroke-width="1"/>
<line x1="564.7" y1="391.5" x2="591.5" y2="391.5" stroke="#800000" stroke-width="1"/>
<line x1="568.6" y1="395.5" x2="587.6" y2="395.5" stroke="#800000" stroke-width="1"/>
<line x1="572.6" y1="399.5" x2="583.6" y2="399.5" stroke="#800000" stroke-width="1"/>
<line x1="576.5" y1="403.5" x2="579.7" y2="403.5" stroke="#800000" stroke-width="1"/>
<text transform="translate(586.22,359.8) scale(1.2221,1)" font-family="Liberation Mono" font-weight="bold" font-size="9.72" fill="#000080" stroke="#000080" stroke-width="0.2">DO2</text>
<text transform="translate(586.24,370) scale(1.1172,1)" font-family="Liberation Mono" font-weight="bold" font-size="10.17" fill="#000080" stroke="#000080" stroke-width="0.2">B56OC</text>
<text transform="translate(596.39,307.4) scale(1.0943,1)" font-family="Liberation Mono" font-weight="bold" font-size="10.76" fill="#000080" stroke="#000080" stroke-width="0.2">LO2</text>
<line x1="602.3" y1="310.5" x2="646.1" y2="310.5" stroke="#000000" stroke-width="1"/>
<line x1="602.3" y1="315.5" x2="646.1" y2="315.5" stroke="#000000" stroke-width="1"/>
<circle cx="597.5" cy="319.5" r="2.6" fill="#0000FF"/>
<path d="M604.1 326.5 c0 -3.82 0.5 -4.78 2.19 -4.78 l5.57 0 c1.69 0 2.19 0.96 2.19 4.78 c0 -3.82 0.5 -4.78 2.19 -4.78 l5.57 0 c1.69 0 2.19 0.96 2.19 4.78 c0 -3.82 0.5 -4.78 2.19 -4.78 l5.57 0 c1.69 0 2.19 0.96 2.19 4.78 c0 -3.82 0.5 -4.78 2.19 -4.78 l5.57 0 c1.69 0 2.19 0.96 2.19 4.78" stroke="#008000" stroke-width="1" fill="none"/>
<line x1="643.9" y1="326.5" x2="650" y2="326.5" stroke="#000000" stroke-width="1"/>
<line x1="650" y1="326.5" x2="709" y2="326.5" stroke="#000080" stroke-width="1"/>
<text transform="translate(596.84,338.6) scale(1.2343,1)" font-family="Liberation Mono" font-weight="bold" font-size="9.12" fill="#000080" stroke="#000080" stroke-width="0.2">1OμH</text>
<circle cx="656.5" cy="326.5" r="3.2" fill="#000080"/>
<line x1="656.5" y1="326.5" x2="656.5" y2="339.5" stroke="#000080" stroke-width="1"/>
<line x1="656.5" y1="339.5" x2="656.5" y2="356.5" stroke="#000000" stroke-width="1"/>
<line x1="645.65" y1="356.5" x2="667.35" y2="356.5" stroke="#008000" stroke-width="1"/>
<line x1="645.65" y1="361.5" x2="667.35" y2="361.5" stroke="#008000" stroke-width="1"/>
<line x1="656.5" y1="361.4" x2="656.5" y2="378.1" stroke="#000000" stroke-width="1"/>
<line x1="656.5" y1="378.1" x2="656.5" y2="391.3" stroke="#800000" stroke-width="1"/>
<line x1="643.1" y1="391.5" x2="669.9" y2="391.5" stroke="#800000" stroke-width="1"/>
<line x1="647" y1="395.5" x2="666" y2="395.5" stroke="#800000" stroke-width="1"/>
<line x1="651" y1="399.5" x2="662" y2="399.5" stroke="#800000" stroke-width="1"/>
<line x1="654.9" y1="403.5" x2="658.1" y2="403.5" stroke="#800000" stroke-width="1"/>
<text transform="translate(662.37,354.2) scale(1.1694,1)" font-family="Liberation Mono" font-weight="bold" font-size="7.5" fill="#008000" stroke="#008000" stroke-width="0.2">+</text>
<text transform="translate(667.75,357) scale(1.1627,1)" font-family="Liberation Mono" font-weight="bold" font-size="10.02" fill="#000080" stroke="#000080" stroke-width="0.2">C1O</text>
<text transform="translate(667.52,367.3) scale(1.1202,1)" font-family="Liberation Mono" font-weight="bold" font-size="10.17" fill="#000080" stroke="#000080" stroke-width="0.2">22OμF</text>
<text transform="translate(667.99,380) scale(0.9752,1)" font-family="Liberation Serif" font-weight="normal" font-size="13.14" fill="#000080">35</text>
<text transform="translate(690.39,311.2) scale(0.8481,1)" font-family="Liberation Serif" font-weight="normal" font-size="14.51" fill="#800000">+5VHP</text>
<line x1="701.8" y1="313.5" x2="716.2" y2="313.5" stroke="#800000" stroke-width="1"/>
<line x1="709.5" y1="313.4" x2="709.5" y2="322.5" stroke="#800000" stroke-width="1"/>
<line x1="709.5" y1="322.5" x2="709.5" y2="352.4" stroke="#000080" stroke-width="1"/>
<circle cx="709.5" cy="326.5" r="3.2" fill="#000080"/>
<line x1="709.5" y1="339.5" x2="709.5" y2="352.4" stroke="#000000" stroke-width="1"/>
<rect x="705.5" y="352.5" width="7" height="26" stroke="#008000" stroke-width="1" fill="#FFFFFF" fill-opacity="0.6"/>
<text transform="translate(711,369.97) rotate(-90) scale(1.0305,1)" font-family="Liberation Sans" font-weight="normal" font-size="5.91" fill="#5C5CB8">1%</text>
<line x1="709.5" y1="378.5" x2="709.5" y2="392" stroke="#000000" stroke-width="1"/>
<line x1="709.5" y1="392" x2="709.5" y2="432" stroke="#000080" stroke-width="1"/>
<circle cx="709.5" cy="418.5" r="3.2" fill="#000080"/>
<line x1="709.5" y1="432" x2="709.5" y2="444.1" stroke="#000000" stroke-width="1"/>
<rect x="705.5" y="444.5" width="7" height="26" stroke="#008000" stroke-width="1" fill="#FFFFFF" fill-opacity="0.6"/>
<text transform="translate(711,461.81) rotate(-90) scale(1.0384,1)" font-family="Liberation Sans" font-weight="normal" font-size="5.91" fill="#5C5CB8">1%</text>
<line x1="709.5" y1="470.4" x2="709.5" y2="483.3" stroke="#000000" stroke-width="1"/>
<line x1="709.5" y1="483.3" x2="709.5" y2="496.5" stroke="#800000" stroke-width="1"/>
<line x1="695.6" y1="496.5" x2="722.4" y2="496.5" stroke="#800000" stroke-width="1"/>
<line x1="699.5" y1="500.5" x2="718.5" y2="500.5" stroke="#800000" stroke-width="1"/>
<line x1="703.5" y1="504.5" x2="714.5" y2="504.5" stroke="#800000" stroke-width="1"/>
<line x1="707.4" y1="508.5" x2="710.6" y2="508.5" stroke="#800000" stroke-width="1"/>
<text transform="translate(713.14,360.1) scale(1.0701,1)" font-family="Liberation Mono" font-weight="bold" font-size="10.61" fill="#000080" stroke="#000080" stroke-width="0.2">RO5</text>
<text transform="translate(713.21,370) scale(1.1529,1)" font-family="Liberation Mono" font-weight="bold" font-size="9.94" fill="#000080" stroke="#000080" stroke-width="0.2">243kΩ</text>
<text transform="translate(713.14,451.5) scale(1.1199,1)" font-family="Liberation Mono" font-weight="bold" font-size="10.17" fill="#000080" stroke="#000080" stroke-width="0.2">RO6</text>
<text transform="translate(713.21,461.8) scale(1.1529,1)" font-family="Liberation Mono" font-weight="bold" font-size="9.94" fill="#000080" stroke="#000080" stroke-width="0.2">243kΩ</text>
<text transform="translate(146.43,544.5) scale(1.0557,1)" font-family="Liberation Serif" font-weight="bold" font-size="15.56" fill="#000080">+3.3V LDO REGULATION</text>
<text transform="translate(10.4,572.4) scale(0.8904,1)" font-family="Liberation Serif" font-weight="normal" font-size="13.59" fill="#800000">+5VHP</text>
<line x1="22.2" y1="574.5" x2="36" y2="574.5" stroke="#800000" stroke-width="1"/>
<line x1="29.5" y1="574.5" x2="29.5" y2="582.5" stroke="#800000" stroke-width="1"/>
<line x1="29.5" y1="582.5" x2="29.5" y2="587.8" stroke="#000080" stroke-width="1"/>
<line x1="29.1" y1="587.5" x2="133.3" y2="587.5" stroke="#000080" stroke-width="1"/>
<line x1="133.3" y1="587.5" x2="146.5" y2="587.5" stroke="#000000" stroke-width="1"/>
<circle cx="29.5" cy="587.5" r="3.2" fill="#000080"/>
<circle cx="107.5" cy="587.5" r="3.2" fill="#000080"/>
<line x1="29.5" y1="587.8" x2="29.5" y2="614.5" stroke="#000000" stroke-width="1"/>
<polygon points="29.5,614.5 21.5,629.5 37.5,629.5" stroke="#008000" stroke-width="1" fill="#EBEBEB" stroke-linejoin="miter"/>
<polyline points="21.5,617.5 21.5,614.5 37.5,614.5 37.5,610.5" stroke="#008000" stroke-width="1" fill="none" stroke-linejoin="miter"/>
<line x1="29.5" y1="629.5" x2="29.5" y2="651.3" stroke="#000000" stroke-width="1"/>
<line x1="29.5" y1="651.3" x2="29.5" y2="666.1" stroke="#800000" stroke-width="1"/>
<line x1="15.3" y1="666.5" x2="42.9" y2="666.5" stroke="#800000" stroke-width="1"/>
<line x1="19.32" y1="670.5" x2="38.89" y2="670.5" stroke="#800000" stroke-width="1"/>
<line x1="23.44" y1="674.5" x2="34.77" y2="674.5" stroke="#800000" stroke-width="1"/>
<line x1="27.45" y1="678.5" x2="30.75" y2="678.5" stroke="#800000" stroke-width="1"/>
<text transform="translate(38.89,618.1) scale(0.9810,1)" font-family="Liberation Mono" font-weight="bold" font-size="10.46" fill="#000080" stroke="#000080" stroke-width="0.2">TVO1</text>
<text transform="translate(39,629.1) scale(1.0436,1)" font-family="Liberation Mono" font-weight="bold" font-size="10.17" fill="#000080" stroke="#000080" stroke-width="0.2">SMCJ44OCA</text>
<line x1="107.5" y1="587.8" x2="107.5" y2="600" stroke="#000080" stroke-width="1"/>
<line x1="107.5" y1="600" x2="107.5" y2="618.1" stroke="#000000" stroke-width="1"/>
<line x1="97.2" y1="618.5" x2="117.8" y2="618.5" stroke="#008000" stroke-width="1"/>
<line x1="97.2" y1="623.5" x2="117.8" y2="623.5" stroke="#008000" stroke-width="1"/>
<line x1="107.5" y1="623.4" x2="107.5" y2="640.7" stroke="#000000" stroke-width="1"/>
<line x1="107.5" y1="640.7" x2="107.5" y2="653.4" stroke="#800000" stroke-width="1"/>
<line x1="94.1" y1="653.5" x2="120.9" y2="653.5" stroke="#800000" stroke-width="1"/>
<line x1="98" y1="657.5" x2="117" y2="657.5" stroke="#800000" stroke-width="1"/>
<line x1="102" y1="661.5" x2="113" y2="661.5" stroke="#800000" stroke-width="1"/>
<line x1="105.9" y1="665.5" x2="109.1" y2="665.5" stroke="#800000" stroke-width="1"/>
<text transform="translate(118.48,624.8) scale(1.0863,1)" font-family="Liberation Mono" font-weight="bold" font-size="10.02" fill="#000080" stroke="#000080" stroke-width="0.2">C11</text>
<text transform="translate(118.11,635) scale(1.1226,1)" font-family="Liberation Mono" font-weight="bold" font-size="10.46" fill="#000080" stroke="#000080" stroke-width="0.2">1OμF</text>
<text transform="translate(118.93,648.5) scale(0.8220,1)" font-family="Liberation Serif" font-weight="normal" font-size="13.98" fill="#000080">50V</text>
<rect x="146.5" y="574.5" width="53" height="40" stroke="#800000" stroke-width="1" fill="#FFFFB0"/>
<text transform="translate(146.5,572.9) scale(1.1765,1)" font-family="Liberation Mono" font-weight="bold" font-size="9.42" fill="#000080" stroke="#000080" stroke-width="0.2">UO2</text>
<text transform="translate(185.46,572.8) scale(1.1706,1)" font-family="Liberation Mono" font-weight="bold" font-size="9.41" fill="#000080" stroke="#000080" stroke-width="0.2">LM1117</text>
<text transform="translate(134.92,585.7) scale(1.0994,1)" font-family="Liberation Mono" font-weight="bold" font-size="9.57" fill="#000000" stroke="#000000" stroke-width="0.2">3</text>
<text transform="translate(149.11,590.8) scale(1.1156,1)" font-family="Liberation Sans" font-weight="normal" font-size="7.7" fill="#000000">IN</text>
<text transform="translate(180.95,590.8) scale(0.9620,1)" font-family="Liberation Sans" font-weight="normal" font-size="7.59" fill="#000000">OUT</text>
<text transform="translate(182.8,603.6) scale(0.8342,1)" font-family="Liberation Sans" font-weight="normal" font-size="8.02" fill="#000000">SUB</text>
<text transform="translate(156.89,613.2) scale(0.9386,1)" font-family="Liberation Sans" font-weight="normal" font-size="8" fill="#000000">ADJ/GND</text>
<line x1="199.7" y1="587.5" x2="225" y2="587.5" stroke="#000000" stroke-width="1"/>
<line x1="199.7" y1="601.5" x2="225" y2="601.5" stroke="#000000" stroke-width="1"/>
<text transform="translate(204.78,585.6) scale(1.2210,1)" font-family="Liberation Mono" font-weight="bold" font-size="9.87" fill="#000000" stroke="#000000" stroke-width="0.2">2</text>
<text transform="translate(205.12,599.2) scale(1.1096,1)" font-family="Liberation Mono" font-weight="bold" font-size="9.87" fill="#000000" stroke="#000000" stroke-width="0.2">O</text>
<circle cx="225.5" cy="587.5" r="3.2" fill="#000080"/>
<circle cx="225.5" cy="601.5" r="3.2" fill="#000080"/>
<line x1="225.5" y1="587.6" x2="225.5" y2="601.3" stroke="#000080" stroke-width="1"/>
<line x1="172.5" y1="614.3" x2="172.5" y2="630" stroke="#000000" stroke-width="1"/>
<line x1="172.5" y1="630" x2="172.5" y2="645" stroke="#000080" stroke-width="1"/>
<line x1="172.5" y1="645" x2="172.5" y2="653" stroke="#800000" stroke-width="1"/>
<line x1="158.6" y1="653.5" x2="185.4" y2="653.5" stroke="#800000" stroke-width="1"/>
<line x1="162.5" y1="657.5" x2="181.5" y2="657.5" stroke="#800000" stroke-width="1"/>
<line x1="166.5" y1="661.5" x2="177.5" y2="661.5" stroke="#800000" stroke-width="1"/>
<line x1="170.4" y1="665.5" x2="173.6" y2="665.5" stroke="#800000" stroke-width="1"/>
<text transform="translate(170.6,626.75) rotate(-90) scale(1.1695,1)" font-family="Liberation Mono" font-weight="bold" font-size="8.2" fill="#000000" stroke="#000000" stroke-width="0.2">1</text>
<line x1="225.5" y1="601.3" x2="225.5" y2="617.6" stroke="#000000" stroke-width="1"/>
<line x1="214.1" y1="617.5" x2="235.9" y2="617.5" stroke="#008000" stroke-width="1"/>
<line x1="214.1" y1="623.5" x2="235.9" y2="623.5" stroke="#008000" stroke-width="1"/>
<line x1="225.5" y1="623.4" x2="225.5" y2="640" stroke="#000000" stroke-width="1"/>
<line x1="225.5" y1="640" x2="225.5" y2="653" stroke="#800000" stroke-width="1"/>
<line x1="211.6" y1="653.5" x2="238.4" y2="653.5" stroke="#800000" stroke-width="1"/>
<line x1="215.5" y1="657.5" x2="234.5" y2="657.5" stroke="#800000" stroke-width="1"/>
<line x1="219.5" y1="661.5" x2="230.5" y2="661.5" stroke="#800000" stroke-width="1"/>
<line x1="223.4" y1="665.5" x2="226.6" y2="665.5" stroke="#800000" stroke-width="1"/>
<text transform="translate(230.39,614.5) scale(1.2279,1)" font-family="Liberation Mono" font-weight="bold" font-size="6.82" fill="#008000" stroke="#008000" stroke-width="0.2">+</text>
<text transform="translate(236.45,618.1) scale(1.0641,1)" font-family="Liberation Mono" font-weight="bold" font-size="10.76" fill="#000080" stroke="#000080" stroke-width="0.2">C12</text>
<text transform="translate(236.22,628.7) scale(1.0664,1)" font-family="Liberation Mono" font-weight="bold" font-size="10.61" fill="#000080" stroke="#000080" stroke-width="0.2">22OμF</text>
<text transform="translate(236.93,641.4) scale(0.9002,1)" font-family="Liberation Serif" font-weight="normal" font-size="13.14" fill="#000080">35</text>
<line x1="225" y1="587.5" x2="370" y2="587.5" stroke="#000080" stroke-width="1"/>
<text transform="translate(263.99,572.1) scale(0.8651,1)" font-family="Liberation Serif" font-weight="normal" font-size="14.05" fill="#800000">+3V3</text>
<line x1="270" y1="574.5" x2="283.6" y2="574.5" stroke="#800000" stroke-width="1"/>
<line x1="276.5" y1="574.5" x2="276.5" y2="582" stroke="#800000" stroke-width="1"/>
<line x1="276.5" y1="582" x2="276.5" y2="587.6" stroke="#000080" stroke-width="1"/>
<circle cx="276.5" cy="587.5" r="3.2" fill="#000080"/>
<line x1="276.5" y1="587.6" x2="276.5" y2="600" stroke="#000080" stroke-width="1"/>
<line x1="276.5" y1="600" x2="276.5" y2="618.1" stroke="#000000" stroke-width="1"/>
<line x1="265.9" y1="618.5" x2="287.7" y2="618.5" stroke="#008000" stroke-width="1"/>
<line x1="265.9" y1="623.5" x2="287.7" y2="623.5" stroke="#008000" stroke-width="1"/>
<line x1="276.5" y1="623.4" x2="276.5" y2="640" stroke="#000000" stroke-width="1"/>
<line x1="276.5" y1="640" x2="276.5" y2="653" stroke="#800000" stroke-width="1"/>
<line x1="263.4" y1="653.5" x2="290.2" y2="653.5" stroke="#800000" stroke-width="1"/>
<line x1="267.3" y1="657.5" x2="286.3" y2="657.5" stroke="#800000" stroke-width="1"/>
<line x1="271.3" y1="661.5" x2="282.3" y2="661.5" stroke="#800000" stroke-width="1"/>
<line x1="275.2" y1="665.5" x2="278.4" y2="665.5" stroke="#800000" stroke-width="1"/>
<text transform="translate(288.55,625.2) scale(1.0189,1)" font-family="Liberation Mono" font-weight="bold" font-size="11.36" fill="#000080" stroke="#000080" stroke-width="0.2">C13</text>
<text transform="translate(288.23,634.6) scale(1.0639,1)" font-family="Liberation Mono" font-weight="bold" font-size="10.76" fill="#000080" stroke="#000080" stroke-width="0.2">1OOnF</text>
<circle cx="342.5" cy="587.5" r="3.2" fill="#000080"/>
<line x1="342.5" y1="587.6" x2="342.5" y2="611.7" stroke="#000000" stroke-width="1"/>
<polygon points="335.5,611.5 350.5,611.5 342.5,619.5" stroke="#008000" stroke-width="1" fill="#EBEBEB" stroke-linejoin="miter"/>
<polygon points="343.5,621.5 335.5,629.5 350.5,629.5" stroke="#008000" stroke-width="1" fill="#EBEBEB" stroke-linejoin="miter"/>
<polyline points="335.3,623.6 338,620.6 348,620.6 350.7,618.3" stroke="#008000" stroke-width="1" fill="none" stroke-linejoin="miter"/>
<line x1="342.5" y1="629.7" x2="342.5" y2="651.3" stroke="#000000" stroke-width="1"/>
<line x1="342.5" y1="651.3" x2="342.5" y2="666.4" stroke="#800000" stroke-width="1"/>
<line x1="329.1" y1="666.5" x2="355.9" y2="666.5" stroke="#800000" stroke-width="1"/>
<line x1="333" y1="670.5" x2="352" y2="670.5" stroke="#800000" stroke-width="1"/>
<line x1="337" y1="674.5" x2="348" y2="674.5" stroke="#800000" stroke-width="1"/>
<line x1="340.9" y1="678.5" x2="344.1" y2="678.5" stroke="#800000" stroke-width="1"/>
<text transform="translate(352.98,618.3) scale(1.0251,1)" font-family="Liberation Mono" font-weight="bold" font-size="10.46" fill="#000080" stroke="#000080" stroke-width="0.2">TVO2</text>
<text transform="translate(352.58,629.4) scale(1.0278,1)" font-family="Liberation Mono" font-weight="bold" font-size="10.46" fill="#000080" stroke="#000080" stroke-width="0.2">ESD7551N2T5G</text>
<text transform="translate(374.45,569.6) scale(0.9783,1)" font-family="Liberation Mono" font-weight="bold" font-size="11.36" fill="#000080" stroke="#000080" stroke-width="0.2">LO3</text>
<line x1="379.5" y1="572.5" x2="424.1" y2="572.5" stroke="#000000" stroke-width="1"/>
<line x1="379.5" y1="577.5" x2="424.1" y2="577.5" stroke="#000000" stroke-width="1"/>
<circle cx="375.5" cy="581.5" r="2.5" fill="#0000FF"/>
<line x1="370" y1="587.5" x2="381.4" y2="587.5" stroke="#000000" stroke-width="1"/>
<path d="M381.4 587.5 c0 -3.86 0.5 -4.82 2.21 -4.82 l5.63 0 c1.71 0 2.21 0.96 2.21 4.82 c0 -3.86 0.5 -4.82 2.21 -4.82 l5.63 0 c1.71 0 2.21 0.96 2.21 4.82 c0 -3.86 0.5 -4.82 2.21 -4.82 l5.63 0 c1.71 0 2.21 0.96 2.21 4.82 c0 -3.86 0.5 -4.82 2.21 -4.82 l5.63 0 c1.71 0 2.21 0.96 2.21 4.82" stroke="#008000" stroke-width="1" fill="none"/>
<line x1="421.6" y1="587.5" x2="434" y2="587.5" stroke="#000000" stroke-width="1"/>
<line x1="434" y1="587.5" x2="499.4" y2="587.5" stroke="#000080" stroke-width="1"/>
<text transform="translate(374.67,600.3) scale(1.0501,1)" font-family="Liberation Mono" font-weight="bold" font-size="10.49" fill="#000080" stroke="#000080" stroke-width="0.2">Chip Bead</text>
<circle cx="447.5" cy="587.5" r="3.2" fill="#000080"/>
<line x1="447.5" y1="587.6" x2="447.5" y2="604.2" stroke="#000000" stroke-width="1"/>
<line x1="436.7" y1="604.5" x2="458.1" y2="604.5" stroke="#008000" stroke-width="1"/>
<line x1="436.7" y1="610.5" x2="458.1" y2="610.5" stroke="#008000" stroke-width="1"/>
<line x1="447.5" y1="610.3" x2="447.5" y2="627.9" stroke="#000000" stroke-width="1"/>
<line x1="447.5" y1="627.9" x2="447.5" y2="640.2" stroke="#800000" stroke-width="1"/>
<line x1="434" y1="640.5" x2="460.8" y2="640.5" stroke="#800000" stroke-width="1"/>
<line x1="437.9" y1="644.5" x2="456.9" y2="644.5" stroke="#800000" stroke-width="1"/>
<line x1="441.9" y1="648.5" x2="452.9" y2="648.5" stroke="#800000" stroke-width="1"/>
<line x1="445.8" y1="652.5" x2="449" y2="652.5" stroke="#800000" stroke-width="1"/>
<circle cx="499.5" cy="587.5" r="3.2" fill="#000080"/>
<line x1="499.5" y1="587.6" x2="499.5" y2="604.2" stroke="#000000" stroke-width="1"/>
<line x1="488.7" y1="604.5" x2="510.1" y2="604.5" stroke="#008000" stroke-width="1"/>
<line x1="488.7" y1="610.5" x2="510.1" y2="610.5" stroke="#008000" stroke-width="1"/>
<line x1="499.5" y1="610.3" x2="499.5" y2="627.9" stroke="#000000" stroke-width="1"/>
<line x1="499.5" y1="627.9" x2="499.5" y2="640.2" stroke="#800000" stroke-width="1"/>
<line x1="486" y1="640.5" x2="512.8" y2="640.5" stroke="#800000" stroke-width="1"/>
<line x1="489.9" y1="644.5" x2="508.9" y2="644.5" stroke="#800000" stroke-width="1"/>
<line x1="493.9" y1="648.5" x2="504.9" y2="648.5" stroke="#800000" stroke-width="1"/>
<line x1="497.8" y1="652.5" x2="501" y2="652.5" stroke="#800000" stroke-width="1"/>
<text transform="translate(458.77,612.2) scale(0.9868,1)" font-family="Liberation Mono" font-weight="bold" font-size="11.06" fill="#000080" stroke="#000080" stroke-width="0.2">C14</text>
<text transform="translate(458.43,622.2) scale(1.0289,1)" font-family="Liberation Mono" font-weight="bold" font-size="11.06" fill="#000080" stroke="#000080" stroke-width="0.2">1OOnF</text>
<text transform="translate(510.34,612.2) scale(1.0629,1)" font-family="Liberation Mono" font-weight="bold" font-size="11.06" fill="#000080" stroke="#000080" stroke-width="0.2">C15</text>
<text transform="translate(510,622.2) scale(1.0778,1)" font-family="Liberation Mono" font-weight="bold" font-size="11.06" fill="#000080" stroke="#000080" stroke-width="0.2">1OμF</text>
<text transform="translate(510.41,635.2) scale(0.8541,1)" font-family="Liberation Serif" font-weight="normal" font-size="14.5" fill="#000080">16V</text>
<text transform="translate(472.5,572.6) scale(0.9042,1)" font-family="Liberation Serif" font-weight="normal" font-size="13.29" fill="#800000">+3V3MCU</text>
<line x1="493.15" y1="574.5" x2="505.65" y2="574.5" stroke="#800000" stroke-width="1"/>
<line x1="499.5" y1="574.4" x2="499.5" y2="587.6" stroke="#800000" stroke-width="1"/>
<rect x="0" y="686" width="732" height="612" fill="#FFFDF8"/>
<path d="M12.5 686V1298M19.5 686V1298M26.5 686V1298M32.5 686V1298M39.5 686V1298M46.5 686V1298M53.5 686V1298M60.5 686V1298M67.5 686V1298M81.5 686V1298M88.5 686V1298M95.5 686V1298M101.5 686V1298M108.5 686V1298M115.5 686V1298M122.5 686V1298M129.5 686V1298M136.5 686V1298M150.5 686V1298M157.5 686V1298M164.5 686V1298M170.5 686V1298M177.5 686V1298M184.5 686V1298M191.5 686V1298M198.5 686V1298M205.5 686V1298M219.5 686V1298M226.5 686V1298M233.5 686V1298M239.5 686V1298M246.5 686V1298M253.5 686V1298M260.5 686V1298M267.5 686V1298M274.5 686V1298M288.5 686V1298M295.5 686V1298M302.5 686V1298M308.5 686V1298M315.5 686V1298M322.5 686V1298M329.5 686V1298M336.5 686V1298M343.5 686V1298M357.5 686V1298M364.5 686V1298M371.5 686V1298M377.5 686V1298M384.5 686V1298M391.5 686V1298M398.5 686V1298M405.5 686V1298M412.5 686V1298M426.5 686V1298M433.5 686V1298M440.5 686V1298M446.5 686V1298M453.5 686V1298M460.5 686V1298M467.5 686V1298M474.5 686V1298M481.5 686V1298M495.5 686V1298M502.5 686V1298M509.5 686V1298M515.5 686V1298M522.5 686V1298M529.5 686V1298M536.5 686V1298M543.5 686V1298M550.5 686V1298M564.5 686V1298M571.5 686V1298M578.5 686V1298M584.5 686V1298M591.5 686V1298M598.5 686V1298M605.5 686V1298M612.5 686V1298M619.5 686V1298M633.5 686V1298M640.5 686V1298M647.5 686V1298M653.5 686V1298M660.5 686V1298M667.5 686V1298M674.5 686V1298M681.5 686V1298M688.5 686V1298M702.5 686V1298M709.5 686V1298M716.5 686V1298M722.5 686V1298M729.5 686V1298M0 691.5H732M0 704.5H732M0 711.5H732M0 718.5H732M0 725.5H732M0 732.5H732M0 739.5H732M0 746.5H732M0 753.5H732M0 760.5H732M0 773.5H732M0 780.5H732M0 787.5H732M0 794.5H732M0 801.5H732M0 808.5H732M0 815.5H732M0 822.5H732M0 828.5H732M0 842.5H732M0 849.5H732M0 856.5H732M0 863.5H732M0 870.5H732M0 877.5H732M0 884.5H732M0 890.5H732M0 897.5H732M0 911.5H732M0 918.5H732M0 925.5H732M0 932.5H732M0 939.5H732M0 946.5H732M0 952.5H732M0 959.5H732M0 966.5H732M0 980.5H732M0 987.5H732M0 994.5H732M0 1001.5H732M0 1008.5H732M0 1014.5H732M0 1021.5H732M0 1028.5H732M0 1035.5H732M0 1049.5H732M0 1056.5H732M0 1063.5H732M0 1070.5H732M0 1076.5H732M0 1083.5H732M0 1090.5H732M0 1097.5H732M0 1104.5H732M0 1118.5H732M0 1125.5H732M0 1132.5H732M0 1138.5H732M0 1145.5H732M0 1152.5H732M0 1159.5H732M0 1166.5H732M0 1173.5H732M0 1187.5H732M0 1194.5H732M0 1200.5H732M0 1207.5H732M0 1214.5H732M0 1221.5H732M0 1228.5H732M0 1235.5H732M0 1242.5H732M0 1255.5H732M0 1262.5H732M0 1269.5H732M0 1276.5H732M0 1283.5H732M0 1290.5H732M0 1297.5H732" stroke="#DDEEFD" stroke-width="1" fill="none"/>
<path d="M5.5 686V1298M74.5 686V1298M143.5 686V1298M212.5 686V1298M281.5 686V1298M350.5 686V1298M419.5 686V1298M488.5 686V1298M557.5 686V1298M626.5 686V1298M695.5 686V1298M0 698.5H732M0 766.5H732M0 835.5H732M0 904.5H732M0 973.5H732M0 1042.5H732M0 1111.5H732M0 1180.5H732M0 1249.5H732" stroke="#C6D8E7" stroke-width="1" fill="none"/>
<text transform="translate(247.03,707.8) scale(1.1410,1)" font-family="Liberation Serif" font-weight="bold" font-size="15.13" fill="#000080">TWO CELLS Li/Po BATTERY CHARGER</text>
<rect x="19.5" y="891.5" width="34" height="55" stroke="#800000" stroke-width="1" fill="#FFFFB0"/>
<text transform="translate(19.15,888.8) scale(1.2137,1)" font-family="Liberation Mono" font-weight="bold" font-size="9.42" fill="#000080" stroke="#000080" stroke-width="0.2">CNO5</text>
<text transform="translate(17.9,953.8) rotate(-90) scale(1.0574,1)" font-family="Liberation Mono" font-weight="bold" font-size="11.04" fill="#000080" stroke="#000080" stroke-width="0.2">Li/PoBATT</text>
<rect x="29.4" y="900.7" width="17.6" height="8.6" rx="4.3" stroke="#008000" fill="none" stroke-width="1"/>
<rect x="29.4" y="914" width="17.6" height="8.6" rx="4.3" stroke="#008000" fill="none" stroke-width="1"/>
<rect x="29.4" y="928.2" width="17.6" height="8.6" rx="4.3" stroke="#008000" fill="none" stroke-width="1"/>
<line x1="47" y1="904.5" x2="75.1" y2="904.5" stroke="#000000" stroke-width="1"/>
<line x1="75.1" y1="904.5" x2="88.4" y2="904.5" stroke="#000080" stroke-width="1"/>
<line x1="47" y1="918.5" x2="75.1" y2="918.5" stroke="#000000" stroke-width="1"/>
<line x1="47" y1="932.5" x2="74.7" y2="932.5" stroke="#000000" stroke-width="1"/>
<line x1="74.5" y1="932.5" x2="74.5" y2="947.3" stroke="#000080" stroke-width="1"/>
<line x1="74.5" y1="947.3" x2="74.5" y2="960.4" stroke="#800000" stroke-width="1"/>
<line x1="61.03" y1="960.5" x2="88.37" y2="960.5" stroke="#800000" stroke-width="1"/>
<line x1="65.01" y1="964.5" x2="84.39" y2="964.5" stroke="#800000" stroke-width="1"/>
<line x1="69.09" y1="968.5" x2="80.31" y2="968.5" stroke="#800000" stroke-width="1"/>
<line x1="73.07" y1="972.5" x2="76.33" y2="972.5" stroke="#800000" stroke-width="1"/>
<text transform="translate(54.09,903) scale(1.2011,1)" font-family="Liberation Mono" font-weight="bold" font-size="10.02" fill="#000000" stroke="#000000" stroke-width="0.2">1</text>
<text transform="translate(53.71,916.2) scale(1.3263,1)" font-family="Liberation Mono" font-weight="bold" font-size="9.87" fill="#000000" stroke="#000000" stroke-width="0.2">2</text>
<text transform="translate(53.93,930.1) scale(1.2672,1)" font-family="Liberation Mono" font-weight="bold" font-size="9.87" fill="#000000" stroke="#000000" stroke-width="0.2">3</text>
<text transform="translate(68.2,875.7) scale(0.8210,1)" font-family="Liberation Serif" font-weight="normal" font-size="14.69" fill="#800000">+BATT</text>
<line x1="80.95" y1="877.5" x2="95.85" y2="877.5" stroke="#800000" stroke-width="1"/>
<line x1="88.5" y1="877.2" x2="88.5" y2="891" stroke="#800000" stroke-width="1"/>
<line x1="88.5" y1="891" x2="88.5" y2="904.3" stroke="#000080" stroke-width="1"/>
<circle cx="88.5" cy="904.5" r="3.4" fill="#000080"/>
<line x1="88.4" y1="904.5" x2="118" y2="904.5" stroke="#000080" stroke-width="1"/>
<line x1="118" y1="904.5" x2="129.6" y2="904.5" stroke="#000000" stroke-width="1"/>
<text transform="translate(129.23,886.3) scale(0.9166,1)" font-family="Liberation Serif" font-weight="normal" font-size="13.98" fill="#000080">PF02</text>
<rect x="129.5" y="888.5" width="55" height="33" stroke="#800000" stroke-width="1" fill="#FFFFB0"/>
<polyline points="143.5,897.5 136.5,897.5 136.5,911.5 147.5,911.5" stroke="#000000" stroke-width="1" fill="none" stroke-linejoin="miter"/>
<polyline points="171.5,897.5 178.5,897.5 178.5,911.5 171.5,911.5" stroke="#000000" stroke-width="1" fill="none" stroke-linejoin="miter"/>
<polyline points="143.31,897.79 171.17,893.99 171.17,895.26" stroke="#008000" stroke-width="1" fill="none" stroke-linejoin="miter"/>
<circle cx="143.5" cy="897.5" r="3.3" fill="#008000"/>
<circle cx="171.5" cy="897.5" r="3.3" fill="#008000"/>
<polyline points="147.11,911.5 150.17,906.33 155.45,916.04 161.36,906.33 166.74,916.04 171.17,911.5 178.24,911.5" stroke="#0000A0" stroke-width="1" fill="none" stroke-linejoin="miter"/>
<polyline points="145.21,916.88 151.12,916.88 165.79,906.33 172.12,906.33" stroke="#800000" stroke-width="1" fill="none" stroke-linejoin="miter"/>
<line x1="129.6" y1="904.5" x2="136.98" y2="904.5" stroke="#000000" stroke-width="1"/>
<line x1="178.24" y1="904.5" x2="184.46" y2="904.5" stroke="#000000" stroke-width="1"/>
<text transform="translate(129.05,933.9) scale(0.8495,1)" font-family="Liberation Serif" font-weight="normal" font-size="14.74" fill="#000080">2000 mA</text>
<line x1="184.4" y1="904.5" x2="198" y2="904.5" stroke="#000000" stroke-width="1"/>
<line x1="198" y1="904.5" x2="356" y2="904.5" stroke="#000080" stroke-width="1"/>
<line x1="356" y1="904.5" x2="369.5" y2="904.5" stroke="#000000" stroke-width="1"/>
<polygon points="369.5,902.3 377.1,904.9 369.5,907.5" stroke="#000000" stroke-width="1" fill="#FFFFFF" stroke-linejoin="miter"/>
<circle cx="211.5" cy="904.5" r="3.4" fill="#000080"/>
<line x1="211.5" y1="904.8" x2="211.5" y2="922.2" stroke="#000000" stroke-width="1"/>
<line x1="200.1" y1="922.5" x2="223.3" y2="922.5" stroke="#008000" stroke-width="1"/>
<line x1="200.1" y1="927.5" x2="223.3" y2="927.5" stroke="#008000" stroke-width="1"/>
<line x1="211.5" y1="927.9" x2="211.5" y2="946" stroke="#000000" stroke-width="1"/>
<line x1="211.5" y1="946" x2="211.5" y2="960.6" stroke="#800000" stroke-width="1"/>
<line x1="198.03" y1="960.5" x2="225.37" y2="960.5" stroke="#800000" stroke-width="1"/>
<line x1="202.01" y1="964.5" x2="221.39" y2="964.5" stroke="#800000" stroke-width="1"/>
<line x1="206.09" y1="968.5" x2="217.31" y2="968.5" stroke="#800000" stroke-width="1"/>
<line x1="210.07" y1="972.5" x2="213.33" y2="972.5" stroke="#800000" stroke-width="1"/>
<text transform="translate(224.44,930.4) scale(1.1797,1)" font-family="Liberation Mono" font-weight="bold" font-size="10.02" fill="#000080" stroke="#000080" stroke-width="0.2">CBO3</text>
<text transform="translate(224.92,941.1) scale(1.0887,1)" font-family="Liberation Mono" font-weight="bold" font-size="10.61" fill="#000080" stroke="#000080" stroke-width="0.2">1OOnF</text>
<circle cx="267.5" cy="904.5" r="3.4" fill="#000080"/>
<line x1="267.5" y1="904.8" x2="267.5" y2="1111.2" stroke="#000080" stroke-width="1"/>
<circle cx="295.5" cy="904.5" r="3.4" fill="#000080"/>
<polyline points="295.5,904.5 295.5,766.5 391.5,766.5" stroke="#000080" stroke-width="1" fill="none" stroke-linejoin="miter"/>
<rect x="377.5" y="863.5" width="69" height="83" stroke="#800000" stroke-width="1" fill="#FFFFB0"/>
<text transform="translate(377.53,861.5) scale(1.0027,1)" font-family="Liberation Mono" font-weight="bold" font-size="12.26" fill="#000080" stroke="#000080" stroke-width="0.2">UO8</text>
<text transform="translate(404.81,861.5) scale(0.9648,1)" font-family="Liberation Mono" font-weight="bold" font-size="12.26" fill="#000080" stroke="#000080" stroke-width="0.2">BQ2O57</text>
<line x1="350.5" y1="822.4" x2="350.5" y2="877.3" stroke="#000080" stroke-width="1"/>
<line x1="350.3" y1="877.5" x2="372" y2="877.5" stroke="#000000" stroke-width="1"/>
<polygon points="377.1,874.7 372,877.3 377.1,879.9" stroke="#000000" stroke-width="1" fill="#FFFFFF" stroke-linejoin="miter"/>
<polyline points="294.5,962.5 294.5,932.5 308.5,932.5" stroke="#000000" stroke-width="1" fill="none" stroke-linejoin="miter"/>
<line x1="336.8" y1="932.5" x2="372" y2="932.5" stroke="#000000" stroke-width="1"/>
<polygon points="377.1,930.1 372,932.7 377.1,935.3" stroke="#000000" stroke-width="1" fill="#FFFFFF" stroke-linejoin="miter"/>
<text transform="translate(358.08,874.6) scale(1.2571,1)" font-family="Liberation Mono" font-weight="bold" font-size="10.17" fill="#000000" stroke="#000000" stroke-width="0.2">7</text>
<text transform="translate(358.15,902.9) scale(1.3026,1)" font-family="Liberation Mono" font-weight="bold" font-size="9.57" fill="#000000" stroke="#000000" stroke-width="0.2">2</text>
<text transform="translate(358.29,929.8) scale(1.2608,1)" font-family="Liberation Mono" font-weight="bold" font-size="9.56" fill="#000000" stroke="#000000" stroke-width="0.2">5</text>
<text transform="translate(386.36,880.3) scale(0.8314,1)" font-family="Liberation Sans" font-weight="normal" font-size="8.16" fill="#000000">CC</text>
<path d="M381 879.5 L386 879.5 M383.5 879.5 L381.5 876.5 L383.5 874.5 L385.5 876.5 Z" stroke="#000000" stroke-width="0.8" fill="none" />
<text transform="translate(380.21,907.9) scale(0.8510,1)" font-family="Liberation Sans" font-weight="normal" font-size="8.43" fill="#000000">BAT</text>
<text transform="translate(380.51,936.2) scale(0.6974,1)" font-family="Liberation Sans" font-weight="normal" font-size="9.17" fill="#000000">STAT</text>
<text transform="translate(429.77,880.3) scale(0.8553,1)" font-family="Liberation Sans" font-weight="normal" font-size="8.45" fill="#000000">SNS</text>
<text transform="translate(420.8,893.9) scale(0.9438,1)" font-family="Liberation Sans" font-weight="normal" font-size="8.45" fill="#000000">COMP</text>
<text transform="translate(429.37,907.9) scale(0.8670,1)" font-family="Liberation Sans" font-weight="normal" font-size="8.31" fill="#000000">VCC</text>
<text transform="translate(435.23,922) scale(0.8563,1)" font-family="Liberation Sans" font-weight="normal" font-size="8.59" fill="#000000">TS</text>
<text transform="translate(430.07,936.2) scale(0.7942,1)" font-family="Liberation Sans" font-weight="normal" font-size="9.17" fill="#000000">VSS</text>
<line x1="452.4" y1="877.5" x2="474.1" y2="877.5" stroke="#000000" stroke-width="1"/>
<polygon points="452.4,875.1 446.6,877.4 452.4,879.7" stroke="#000000" stroke-width="1" fill="#FFFFFF" stroke-linejoin="miter"/>
<line x1="452.4" y1="891.5" x2="474.1" y2="891.5" stroke="#000000" stroke-width="1"/>
<polygon points="452.4,889 446.6,891.3 452.4,893.6" stroke="#000000" stroke-width="1" fill="#FFFFFF" stroke-linejoin="miter"/>
<line x1="452.4" y1="918.5" x2="474.1" y2="918.5" stroke="#000000" stroke-width="1"/>
<polygon points="452.4,916.4 446.6,918.7 452.4,921" stroke="#000000" stroke-width="1" fill="#FFFFFF" stroke-linejoin="miter"/>
<line x1="446.6" y1="905.5" x2="474.1" y2="905.5" stroke="#000000" stroke-width="1"/>
<line x1="446.6" y1="932.5" x2="474.1" y2="932.5" stroke="#000000" stroke-width="1"/>
<text transform="translate(460.02,875.2) scale(1.2463,1)" font-family="Liberation Mono" font-weight="bold" font-size="10.48" fill="#000000" stroke="#000000" stroke-width="0.2">1</text>
<text transform="translate(460.21,889.3) scale(1.2389,1)" font-family="Liberation Mono" font-weight="bold" font-size="10.46" fill="#000000" stroke="#000000" stroke-width="0.2">8</text>
<text transform="translate(460.32,903) scale(1.2494,1)" font-family="Liberation Mono" font-weight="bold" font-size="10.17" fill="#000000" stroke="#000000" stroke-width="0.2">3</text>
<text transform="translate(460.49,917) scale(1.1406,1)" font-family="Liberation Mono" font-weight="bold" font-size="10.48" fill="#000000" stroke="#000000" stroke-width="0.2">4</text>
<text transform="translate(460.09,930.9) scale(1.3219,1)" font-family="Liberation Mono" font-weight="bold" font-size="10.02" fill="#000000" stroke="#000000" stroke-width="0.2">6</text>
<line x1="474.5" y1="877.4" x2="474.5" y2="766.9" stroke="#000080" stroke-width="1"/>
<line x1="474.5" y1="905.1" x2="474.5" y2="891.3" stroke="#000080" stroke-width="1"/>
<circle cx="474.5" cy="891.5" r="3.4" fill="#000080"/>
<line x1="474.1" y1="891.5" x2="529.7" y2="891.5" stroke="#000080" stroke-width="1"/>
<line x1="529.7" y1="891.5" x2="543.5" y2="891.5" stroke="#000000" stroke-width="1"/>
<circle cx="529.5" cy="891.5" r="3.4" fill="#000080"/>
<rect x="543.5" y="887.5" width="27" height="8" stroke="#008000" stroke-width="1" fill="#FFFFFF" fill-opacity="0.6"/>
<text transform="translate(552.76,893.3) scale(0.9106,1)" font-family="Liberation Sans" font-weight="normal" font-size="6.34" fill="#4646A6">1%</text>
<line x1="570.6" y1="891.5" x2="584.9" y2="891.5" stroke="#000000" stroke-width="1"/>
<line x1="570.6" y1="946.5" x2="584.9" y2="946.5" stroke="#000000" stroke-width="1"/>
<line x1="584.5" y1="891.3" x2="584.5" y2="946.5" stroke="#000080" stroke-width="1"/>
<line x1="474.1" y1="918.5" x2="584.9" y2="918.5" stroke="#000080" stroke-width="1"/>
<circle cx="584.5" cy="918.5" r="3.4" fill="#000080"/>
<line x1="474.5" y1="932.6" x2="474.5" y2="946.5" stroke="#000080" stroke-width="1"/>
<circle cx="474.5" cy="946.5" r="3.4" fill="#000080"/>
<line x1="474.1" y1="946.5" x2="529.7" y2="946.5" stroke="#000080" stroke-width="1"/>
<line x1="529.7" y1="946.5" x2="543.5" y2="946.5" stroke="#000000" stroke-width="1"/>
<rect x="543.5" y="942.5" width="27" height="8" stroke="#008000" stroke-width="1" fill="#FFFFFF" fill-opacity="0.6"/>
<text transform="translate(552.76,948.7) scale(0.9106,1)" font-family="Liberation Sans" font-weight="normal" font-size="6.34" fill="#4646A6">1%</text>
<line x1="474.5" y1="946.5" x2="474.5" y2="966.7" stroke="#800000" stroke-width="1"/>
<line x1="460.3" y1="966.5" x2="487.9" y2="966.5" stroke="#800000" stroke-width="1"/>
<line x1="464.31" y1="970.5" x2="483.89" y2="970.5" stroke="#800000" stroke-width="1"/>
<line x1="468.44" y1="974.5" x2="479.77" y2="974.5" stroke="#800000" stroke-width="1"/>
<line x1="472.45" y1="979.5" x2="475.75" y2="979.5" stroke="#800000" stroke-width="1"/>
<text transform="translate(487.93,916.2) scale(0.8819,1)" font-family="Liberation Serif" font-weight="normal" font-size="14.5" fill="#800000">NTC</text>
<text transform="translate(541.07,883.7) scale(1.0315,1)" font-family="Liberation Mono" font-weight="bold" font-size="11.96" fill="#000080" stroke="#000080" stroke-width="0.2">RBO6</text>
<text transform="translate(541.71,905.3) scale(1.1482,1)" font-family="Liberation Mono" font-weight="bold" font-size="10.21" fill="#000080" stroke="#000080" stroke-width="0.2">1OOkΩ</text>
<text transform="translate(541.07,938.5) scale(1.0912,1)" font-family="Liberation Mono" font-weight="bold" font-size="11.36" fill="#000080" stroke="#000080" stroke-width="0.2">RBO7</text>
<text transform="translate(541.71,960.5) scale(1.1482,1)" font-family="Liberation Mono" font-weight="bold" font-size="10.21" fill="#000080" stroke="#000080" stroke-width="0.2">1OOkΩ</text>
<rect x="308.5" y="928.5" width="28" height="8" stroke="#008000" stroke-width="1" fill="#FFFFFF" fill-opacity="0.6"/>
<text transform="translate(318.26,934.8) scale(0.9106,1)" font-family="Liberation Sans" font-weight="normal" font-size="6.34" fill="#4646A6">1%</text>
<text transform="translate(307.03,924.8) scale(1.2002,1)" font-family="Liberation Mono" font-weight="bold" font-size="9.57" fill="#000080" stroke="#000080" stroke-width="0.2">RBO5</text>
<text transform="translate(307.58,947) scale(1.2797,1)" font-family="Liberation Mono" font-weight="bold" font-size="9.38" fill="#000080" stroke="#000080" stroke-width="0.2">2kΩ</text>
<polygon points="294.9,962.4 303.8,962.4 294.9,970.6" stroke="#E00000" stroke-width="0.8" fill="#E00000" stroke-linejoin="miter"/>
<polygon points="294.9,962.4 286.9,962.4 294.9,970.6" stroke="#E00000" stroke-width="0.8" fill="#E00000" stroke-linejoin="miter"/>
<line x1="287.1" y1="971.5" x2="303.8" y2="971.5" stroke="#800000" stroke-width="1"/>
<line x1="294.5" y1="971.1" x2="294.5" y2="987.8" stroke="#000000" stroke-width="1"/>
<line x1="294.5" y1="987.8" x2="294.5" y2="1001.2" stroke="#800000" stroke-width="1"/>
<line x1="281.1" y1="1001.5" x2="308.7" y2="1001.5" stroke="#800000" stroke-width="1"/>
<line x1="285.11" y1="1005.5" x2="304.69" y2="1005.5" stroke="#800000" stroke-width="1"/>
<line x1="289.23" y1="1009.5" x2="300.56" y2="1009.5" stroke="#800000" stroke-width="1"/>
<line x1="293.25" y1="1013.5" x2="296.55" y2="1013.5" stroke="#800000" stroke-width="1"/>
<line x1="310.2" y1="961.6" x2="318.9" y2="969.5" stroke="#FF0000" stroke-width="0.7"/>
<polygon points="318.9,969.5 314.7,968.3 317.7,965.3" stroke="#FF0000" stroke-width="0.7" fill="none" stroke-linejoin="miter"/>
<line x1="305.1" y1="967.1" x2="314.1" y2="975.9" stroke="#FF0000" stroke-width="0.7"/>
<polygon points="314.1,975.9 309.9,974.7 312.9,971.7" stroke="#FF0000" stroke-width="0.7" fill="none" stroke-linejoin="miter"/>
<text transform="translate(320.87,969.2) scale(1.1736,1)" font-family="Liberation Mono" font-weight="bold" font-size="10.17" fill="#000080" stroke="#000080" stroke-width="0.2">LDO1</text>
<text transform="translate(320.17,979.8) scale(1.1949,1)" font-family="Liberation Mono" font-weight="bold" font-size="10.32" fill="#000080" stroke="#000080" stroke-width="0.2">RED</text>
<text transform="translate(406.67,752.4) scale(1.0149,1)" font-family="Liberation Mono" font-weight="bold" font-size="11.06" fill="#000080" stroke="#000080" stroke-width="0.2">TO1</text>
<text transform="translate(432.55,752.4) scale(1.0304,1)" font-family="Liberation Mono" font-weight="bold" font-size="11.36" fill="#000080" stroke="#000080" stroke-width="0.2">FZT951</text>
<circle cx="391.5" cy="766.5" r="3.4" fill="#000080"/>
<line x1="391.5" y1="766.5" x2="405.1" y2="766.5" stroke="#000080" stroke-width="1"/>
<line x1="405.1" y1="766.5" x2="422.2" y2="766.5" stroke="#000000" stroke-width="1"/>
<line x1="444.3" y1="766.5" x2="460.6" y2="766.5" stroke="#000000" stroke-width="1"/>
<line x1="460.6" y1="766.5" x2="488" y2="766.5" stroke="#000080" stroke-width="1"/>
<polyline points="391.5,766.5 391.5,780.5 405.5,780.5" stroke="#000080" stroke-width="1" fill="none" stroke-linejoin="miter"/>
<line x1="405.1" y1="780.5" x2="412.5" y2="780.5" stroke="#000000" stroke-width="1"/>
<circle cx="433.1" cy="775" r="20.6" stroke="#8C8C8C" stroke-width="1" fill="none"/>
<circle cx="433.1" cy="775.3" r="14.1" stroke="#008000" stroke-width="1.5" fill="none"/>
<rect x="423.1" y="776.3" width="20" height="3.7" fill="#008000"/>
<line x1="428.7" y1="776" x2="422.2" y2="766.9" stroke="#008000" stroke-width="1.1"/>
<line x1="437.5" y1="776" x2="444.3" y2="766.9" stroke="#008000" stroke-width="1.1"/>
<polygon points="437.5,768.4 437.5,774.3 443.8,772" stroke="#008000" stroke-width="0.6" fill="#008000" stroke-linejoin="miter"/>
<line x1="433.5" y1="780" x2="433.5" y2="789.4" stroke="#008000" stroke-width="1"/>
<polyline points="433.5,789.5 433.5,822.5 391.5,822.5" stroke="#000000" stroke-width="1" fill="none" stroke-linejoin="miter"/>
<text transform="translate(410.8,772) rotate(-90)" font-family="Liberation Sans" font-size="5.8" fill="#5858A8" text-anchor="middle">C</text>
<text transform="translate(410.8,785.2) rotate(-90)" font-family="Liberation Sans" font-size="5.8" fill="#5858A8" text-anchor="middle">C</text>
<text transform="translate(458.5,770.6) rotate(-90)" font-family="Liberation Sans" font-size="5.8" fill="#5858A8" text-anchor="middle">E</text>
<text transform="translate(432,799.4) rotate(-90)" font-family="Liberation Sans" font-size="5.8" fill="#5858A8" text-anchor="middle">B</text>
<circle cx="474.5" cy="766.5" r="3.4" fill="#000080"/>
<rect x="364.5" y="818.5" width="27" height="8" stroke="#008000" stroke-width="1" fill="#FFFFFF" fill-opacity="0.6"/>
<text transform="translate(373.31,824.8) scale(0.9106,1)" font-family="Liberation Sans" font-weight="normal" font-size="6.34" fill="#4646A6">1%</text>
<line x1="350.3" y1="822.5" x2="364.1" y2="822.5" stroke="#000000" stroke-width="1"/>
<text transform="translate(362.03,813.8) scale(1.1794,1)" font-family="Liberation Mono" font-weight="bold" font-size="9.72" fill="#000080" stroke="#000080" stroke-width="0.2">RBO4</text>
<text transform="translate(362.83,835.8) scale(1.2284,1)" font-family="Liberation Mono" font-weight="bold" font-size="9.25" fill="#000080" stroke="#000080" stroke-width="0.2">1kΩ</text>
<rect x="488.5" y="763.5" width="27" height="8" stroke="#008000" stroke-width="1" fill="#FFFFFF" fill-opacity="0.6"/>
<text transform="translate(497.46,769.3) scale(0.9106,1)" font-family="Liberation Sans" font-weight="normal" font-size="6.34" fill="#4646A6">1%</text>
<line x1="515.5" y1="766.5" x2="557.5" y2="766.5" stroke="#000080" stroke-width="1"/>
<text transform="translate(485.58,760.3) scale(1.0424,1)" font-family="Liberation Mono" font-weight="bold" font-size="11.81" fill="#000080" stroke="#000080" stroke-width="0.2">RBO3</text>
<text transform="translate(486.98,782.6) scale(1.0040,1)" font-family="Liberation Mono" font-weight="bold" font-size="11.96" fill="#000080" stroke="#000080" stroke-width="0.2">O.2Ω</text>
<circle cx="529.5" cy="766.5" r="3.4" fill="#000080"/>
<line x1="529.5" y1="766.9" x2="529.5" y2="891.3" stroke="#000080" stroke-width="1"/>
<text transform="translate(541.95,738.2) scale(0.8747,1)" font-family="Liberation Serif" font-weight="normal" font-size="14.95" fill="#800000">+12V</text>
<line x1="550.5" y1="739.5" x2="564.5" y2="739.5" stroke="#800000" stroke-width="1"/>
<line x1="557.5" y1="739.8" x2="557.5" y2="751" stroke="#800000" stroke-width="1"/>
<line x1="557.5" y1="751" x2="557.5" y2="766.9" stroke="#000080" stroke-width="1"/>
<circle cx="557.5" cy="766.5" r="3.4" fill="#000080"/>
<line x1="557.5" y1="766.9" x2="557.5" y2="785.1" stroke="#000000" stroke-width="1"/>
<line x1="546" y1="785.5" x2="569" y2="785.5" stroke="#008000" stroke-width="1"/>
<line x1="546" y1="790.5" x2="569" y2="790.5" stroke="#008000" stroke-width="1"/>
<line x1="557.5" y1="790.4" x2="557.5" y2="808" stroke="#000000" stroke-width="1"/>
<line x1="557.5" y1="808" x2="557.5" y2="822.5" stroke="#800000" stroke-width="1"/>
<line x1="543.7" y1="822.5" x2="571.3" y2="822.5" stroke="#800000" stroke-width="1"/>
<line x1="547.72" y1="826.5" x2="567.28" y2="826.5" stroke="#800000" stroke-width="1"/>
<line x1="551.84" y1="830.5" x2="563.16" y2="830.5" stroke="#800000" stroke-width="1"/>
<line x1="555.85" y1="834.5" x2="559.15" y2="834.5" stroke="#800000" stroke-width="1"/>
<text transform="translate(568.62,793.4) scale(1.0443,1)" font-family="Liberation Mono" font-weight="bold" font-size="11.81" fill="#000080" stroke="#000080" stroke-width="0.2">CBO2</text>
<text transform="translate(569.3,804.1) scale(0.9895,1)" font-family="Liberation Mono" font-weight="bold" font-size="11.96" fill="#000080" stroke="#000080" stroke-width="0.2">1OOnF</text>
<text transform="translate(101.57,999.4) scale(0.8847,1)" font-family="Liberation Serif" font-weight="normal" font-size="14.05" fill="#000080">SWPB</text>
<text transform="translate(138.19,994.2) scale(1.0336,1)" font-family="Liberation Serif" font-weight="normal" font-size="6.92" fill="#B8BCD8">(SWPA)</text>
<text transform="translate(102.04,1012.7) scale(0.8970,1)" font-family="Liberation Serif" font-weight="normal" font-size="13.83" fill="#000080">KLS7-P7.0X7.0-1</text>
<rect x="102.5" y="1015.5" width="41" height="55" stroke="#800000" stroke-width="1" fill="#FFFFB0"/>
<line x1="74.4" y1="1042.5" x2="115.8" y2="1042.5" stroke="#000000" stroke-width="1"/>
<line x1="74.5" y1="1042.4" x2="74.5" y2="1139.3" stroke="#000080" stroke-width="1"/>
<line x1="115.8" y1="1042.6" x2="133.8" y2="1037.2" stroke="#000000" stroke-width="1"/>
<polyline points="129.5,1035.5 129.5,1029.5 171.5,1029.5" stroke="#000000" stroke-width="1" fill="none" stroke-linejoin="miter"/>
<polyline points="171.5,1029.5 191.5,1029.5 191.5,1036.5" stroke="#000080" stroke-width="1" fill="none" stroke-linejoin="miter"/>
<line x1="191.5" y1="1036" x2="191.5" y2="1042.4" stroke="#800000" stroke-width="1"/>
<line x1="178.4" y1="1042.5" x2="205.2" y2="1042.5" stroke="#800000" stroke-width="1"/>
<line x1="182.3" y1="1046.5" x2="201.3" y2="1046.5" stroke="#800000" stroke-width="1"/>
<line x1="186.3" y1="1050.5" x2="197.3" y2="1050.5" stroke="#800000" stroke-width="1"/>
<line x1="190.2" y1="1054.5" x2="193.4" y2="1054.5" stroke="#800000" stroke-width="1"/>
<polyline points="129.5,1049.5 129.5,1056.5 171.5,1056.5" stroke="#000000" stroke-width="1" fill="none" stroke-linejoin="miter"/>
<circle cx="115.5" cy="1042.5" r="1.5" fill="#0000FF"/>
<circle cx="129.5" cy="1035.5" r="1.5" fill="#0000FF"/>
<circle cx="129.5" cy="1049.5" r="1.5" fill="#0000FF"/>
<text transform="translate(84.71,1040.4) scale(1.1718,1)" font-family="Liberation Serif" font-weight="normal" font-size="13.13" fill="#000000">5</text>
<text transform="translate(154.47,1026.8) scale(0.9558,1)" font-family="Liberation Serif" font-weight="normal" font-size="12.15" fill="#000000">4</text>
<text transform="translate(154.12,1054) scale(1.1378,1)" font-family="Liberation Serif" font-weight="normal" font-size="11.93" fill="#000000">6</text>
<text transform="translate(178.38,1068) scale(0.9489,1)" font-family="Liberation Serif" font-weight="normal" font-size="13.29" fill="#800000">GND</text>
<text transform="translate(4.67,1095.9) scale(0.8710,1)" font-family="Liberation Serif" font-weight="normal" font-size="14.5" fill="#800000">+12V</text>
<line x1="12.3" y1="1097.5" x2="26.7" y2="1097.5" stroke="#800000" stroke-width="1"/>
<line x1="19.5" y1="1097.4" x2="19.5" y2="1111.7" stroke="#800000" stroke-width="1"/>
<line x1="19.5" y1="1111.7" x2="19.5" y2="1125.1" stroke="#000000" stroke-width="1"/>
<rect x="15.5" y="1125.5" width="8" height="28" stroke="#008000" stroke-width="1" fill="#FFFFFF" fill-opacity="0.6"/>
<text transform="translate(21.5,1144.36) rotate(-90) scale(1.1292,1)" font-family="Liberation Sans" font-weight="normal" font-size="5.91" fill="#5C5CB8">1%</text>
<line x1="19.5" y1="1153.7" x2="19.5" y2="1166.8" stroke="#000000" stroke-width="1"/>
<polyline points="19.5,1166.5 19.5,1194.5 33.5,1194.5" stroke="#000080" stroke-width="1" fill="none" stroke-linejoin="miter"/>
<line x1="33.9" y1="1194.5" x2="52.5" y2="1194.5" stroke="#000000" stroke-width="1"/>
<text transform="translate(24.19,1133.3) scale(1.1205,1)" font-family="Liberation Mono" font-weight="bold" font-size="10.76" fill="#000080" stroke="#000080" stroke-width="0.2">RBO8</text>
<text transform="translate(24.6,1144.1) scale(1.1616,1)" font-family="Liberation Mono" font-weight="bold" font-size="10.21" fill="#000080" stroke="#000080" stroke-width="0.2">1OOkΩ</text>
<circle cx="74.5" cy="1139.5" r="3.4" fill="#000080"/>
<line x1="74.5" y1="1139.3" x2="74.5" y2="1171" stroke="#000080" stroke-width="1"/>
<line x1="74.5" y1="1171" x2="74.5" y2="1182.6" stroke="#000000" stroke-width="1"/>
<circle cx="66.2" cy="1194.3" r="14" stroke="#008000" stroke-width="1.5" fill="none"/>
<line x1="52.5" y1="1194.5" x2="63.1" y2="1194.5" stroke="#000000" stroke-width="1"/>
<line x1="63.1" y1="1184.8" x2="63.1" y2="1203.8" stroke="#008000" stroke-width="2.2"/>
<line x1="63.1" y1="1189" x2="74.5" y2="1182.6" stroke="#008000" stroke-width="1.2"/>
<line x1="63.1" y1="1198.5" x2="74.5" y2="1205.9" stroke="#008000" stroke-width="1.2"/>
<polygon points="74,1205.6 68.6,1204.6 72.2,1200.2" stroke="#008000" stroke-width="0.8" fill="#008000" stroke-linejoin="miter"/>
<line x1="74.5" y1="1205.9" x2="74.5" y2="1221.8" stroke="#000000" stroke-width="1"/>
<line x1="74.5" y1="1221.8" x2="74.5" y2="1235.6" stroke="#800000" stroke-width="1"/>
<line x1="60.7" y1="1235.5" x2="88.3" y2="1235.5" stroke="#800000" stroke-width="1"/>
<line x1="64.72" y1="1239.5" x2="84.28" y2="1239.5" stroke="#800000" stroke-width="1"/>
<line x1="68.83" y1="1243.5" x2="80.17" y2="1243.5" stroke="#800000" stroke-width="1"/>
<line x1="72.85" y1="1247.5" x2="76.15" y2="1247.5" stroke="#800000" stroke-width="1"/>
<text transform="translate(67.18,1172.3) scale(0.9188,1)" font-family="Liberation Sans" font-weight="normal" font-size="6.87" fill="#5050A8">C</text>
<text transform="translate(39.61,1194) scale(1.0234,1)" font-family="Liberation Sans" font-weight="normal" font-size="6.98" fill="#5050A8">B</text>
<text transform="translate(67.16,1221.4) scale(0.9520,1)" font-family="Liberation Sans" font-weight="normal" font-size="6.98" fill="#5050A8">E</text>
<text transform="translate(80.46,1176.3) scale(1.0403,1)" font-family="Liberation Mono" font-weight="bold" font-size="11.06" fill="#000080" stroke="#000080" stroke-width="0.2">TO2</text>
<text transform="translate(80.02,1186.9) scale(1.1167,1)" font-family="Liberation Mono" font-weight="bold" font-size="10.46" fill="#000080" stroke="#000080" stroke-width="0.2">BC817</text>
<line x1="74.5" y1="1139.5" x2="281" y2="1139.5" stroke="#000080" stroke-width="1"/>
<line x1="281" y1="1139.5" x2="301.4" y2="1139.5" stroke="#000000" stroke-width="1"/>
<polygon points="301.9,1136.8 308.4,1139.2 301.9,1141.6" stroke="#000000" stroke-width="1" fill="#FFFFFF" stroke-linejoin="miter"/>
<text transform="translate(143.96,1137.1) scale(0.8878,1)" font-family="Liberation Serif" font-weight="normal" font-size="13.33" fill="#800000">BATT-EN</text>
<polyline points="122.5,1180.5 122.5,1153.5 281.5,1153.5" stroke="#000080" stroke-width="1" fill="none" stroke-linejoin="miter"/>
<line x1="122.5" y1="1166.8" x2="122.5" y2="1180.5" stroke="#000000" stroke-width="1"/>
<line x1="281" y1="1153.5" x2="308.4" y2="1153.5" stroke="#000000" stroke-width="1"/>
<rect x="118.5" y="1180.5" width="8" height="28" stroke="#008000" stroke-width="1" fill="#FFFFFF" fill-opacity="0.6"/>
<text transform="translate(124.3,1199.35) rotate(-90) scale(1.1055,1)" font-family="Liberation Sans" font-weight="normal" font-size="5.91" fill="#5C5CB8">1%</text>
<line x1="122.5" y1="1208.5" x2="122.5" y2="1222.2" stroke="#000000" stroke-width="1"/>
<line x1="122.5" y1="1222.2" x2="122.5" y2="1235.6" stroke="#800000" stroke-width="1"/>
<line x1="108.5" y1="1235.5" x2="136.1" y2="1235.5" stroke="#800000" stroke-width="1"/>
<line x1="112.52" y1="1239.5" x2="132.09" y2="1239.5" stroke="#800000" stroke-width="1"/>
<line x1="116.63" y1="1243.5" x2="127.97" y2="1243.5" stroke="#800000" stroke-width="1"/>
<line x1="120.65" y1="1247.5" x2="123.95" y2="1247.5" stroke="#800000" stroke-width="1"/>
<text transform="translate(127.19,1188.4) scale(1.1021,1)" font-family="Liberation Mono" font-weight="bold" font-size="10.93" fill="#000080" stroke="#000080" stroke-width="0.2">RB11</text>
<text transform="translate(127.24,1199.2) scale(1.1204,1)" font-family="Liberation Mono" font-weight="bold" font-size="10.07" fill="#000080" stroke="#000080" stroke-width="0.2">1O.2kΩ</text>
<polyline points="184.5,1180.5 184.5,1166.5 281.5,1166.5" stroke="#000080" stroke-width="1" fill="none" stroke-linejoin="miter"/>
<line x1="184.5" y1="1168" x2="184.5" y2="1180.2" stroke="#000000" stroke-width="1"/>
<line x1="281" y1="1166.5" x2="308.4" y2="1166.5" stroke="#000000" stroke-width="1"/>
<rect x="180.5" y="1180.5" width="8" height="28" stroke="#008000" stroke-width="1" fill="#FFFFFF" fill-opacity="0.6"/>
<text transform="translate(186.8,1199.32) rotate(-90) scale(1.1213,1)" font-family="Liberation Sans" font-weight="normal" font-size="5.91" fill="#5C5CB8">1%</text>
<line x1="184.5" y1="1208.6" x2="184.5" y2="1239.5" stroke="#000000" stroke-width="1"/>
<line x1="173.45" y1="1239.5" x2="196.15" y2="1239.5" stroke="#008000" stroke-width="1"/>
<line x1="173.45" y1="1245.5" x2="196.15" y2="1245.5" stroke="#008000" stroke-width="1"/>
<line x1="184.5" y1="1245" x2="184.5" y2="1262.9" stroke="#000000" stroke-width="1"/>
<line x1="184.5" y1="1262.9" x2="184.5" y2="1277.1" stroke="#800000" stroke-width="1"/>
<line x1="171" y1="1277.5" x2="198.6" y2="1277.5" stroke="#800000" stroke-width="1"/>
<line x1="175.02" y1="1281.5" x2="194.59" y2="1281.5" stroke="#800000" stroke-width="1"/>
<line x1="179.14" y1="1285.5" x2="190.47" y2="1285.5" stroke="#800000" stroke-width="1"/>
<line x1="183.15" y1="1289.5" x2="186.45" y2="1289.5" stroke="#800000" stroke-width="1"/>
<text transform="translate(189.68,1188.6) scale(1.1372,1)" font-family="Liberation Mono" font-weight="bold" font-size="10.76" fill="#000080" stroke="#000080" stroke-width="0.2">R12</text>
<text transform="translate(189.71,1199) scale(1.1985,1)" font-family="Liberation Mono" font-weight="bold" font-size="9.8" fill="#000080" stroke="#000080" stroke-width="0.2">16.9kΩ</text>
<text transform="translate(196.65,1247.4) scale(1.0741,1)" font-family="Liberation Mono" font-weight="bold" font-size="10.76" fill="#000080" stroke="#000080" stroke-width="0.2">CBO5</text>
<text transform="translate(197.51,1257.8) scale(1.0278,1)" font-family="Liberation Mono" font-weight="bold" font-size="11.08" fill="#000080" stroke="#000080" stroke-width="0.2">4.7nF</text>
<text transform="translate(197.21,1272.4) scale(0.7846,1)" font-family="Liberation Serif" font-weight="normal" font-size="15.04" fill="#000080">50V</text>
<circle cx="240.5" cy="1166.5" r="3.4" fill="#000080"/>
<line x1="240.5" y1="1166.4" x2="240.5" y2="1184.3" stroke="#000000" stroke-width="1"/>
<line x1="229.3" y1="1184.5" x2="250.7" y2="1184.5" stroke="#008000" stroke-width="1"/>
<line x1="229.3" y1="1190.5" x2="250.7" y2="1190.5" stroke="#008000" stroke-width="1"/>
<line x1="240.5" y1="1190.2" x2="240.5" y2="1208.1" stroke="#000000" stroke-width="1"/>
<line x1="240.5" y1="1208.1" x2="240.5" y2="1222.4" stroke="#800000" stroke-width="1"/>
<line x1="226.2" y1="1222.5" x2="253.8" y2="1222.5" stroke="#800000" stroke-width="1"/>
<line x1="230.22" y1="1226.5" x2="249.78" y2="1226.5" stroke="#800000" stroke-width="1"/>
<line x1="234.34" y1="1230.5" x2="245.66" y2="1230.5" stroke="#800000" stroke-width="1"/>
<line x1="238.35" y1="1234.5" x2="241.65" y2="1234.5" stroke="#800000" stroke-width="1"/>
<text transform="translate(251.93,1192.6) scale(1.0266,1)" font-family="Liberation Mono" font-weight="bold" font-size="11.66" fill="#000080" stroke="#000080" stroke-width="0.2">CBO6</text>
<text transform="translate(252.71,1203.5) scale(0.9413,1)" font-family="Liberation Mono" font-weight="bold" font-size="11.84" fill="#000080" stroke="#000080" stroke-width="0.2">47pF</text>
<text transform="translate(252.43,1217.6) scale(0.7645,1)" font-family="Liberation Serif" font-weight="normal" font-size="15.04" fill="#000080">50V</text>
<line x1="281.7" y1="1194.5" x2="308.4" y2="1194.5" stroke="#000000" stroke-width="1"/>
<line x1="281.7" y1="1208.5" x2="308.4" y2="1208.5" stroke="#000000" stroke-width="1"/>
<line x1="281.5" y1="1194.5" x2="281.5" y2="1208.6" stroke="#000080" stroke-width="1"/>
<circle cx="281.5" cy="1208.5" r="3.4" fill="#000080"/>
<line x1="281.5" y1="1208.6" x2="281.5" y2="1235.5" stroke="#000080" stroke-width="1"/>
<line x1="267.9" y1="1235.5" x2="295.5" y2="1235.5" stroke="#800000" stroke-width="1"/>
<line x1="271.91" y1="1239.5" x2="291.49" y2="1239.5" stroke="#800000" stroke-width="1"/>
<line x1="276.03" y1="1243.5" x2="287.37" y2="1243.5" stroke="#800000" stroke-width="1"/>
<line x1="280.05" y1="1247.5" x2="283.35" y2="1247.5" stroke="#800000" stroke-width="1"/>
<line x1="267.3" y1="1111.5" x2="281.5" y2="1111.5" stroke="#000080" stroke-width="1"/>
<line x1="281.5" y1="1111.5" x2="308.4" y2="1111.5" stroke="#000000" stroke-width="1"/>
<text transform="translate(291.75,1109.2) scale(1.0827,1)" font-family="Liberation Serif" font-weight="normal" font-size="13.59" fill="#000000">2</text>
<text transform="translate(291.72,1137.1) scale(1.1675,1)" font-family="Liberation Serif" font-weight="normal" font-size="12.23" fill="#000000">3</text>
<text transform="translate(292.15,1149.8) scale(1.0575,1)" font-family="Liberation Serif" font-weight="normal" font-size="12" fill="#000000">4</text>
<text transform="translate(291.81,1164) scale(1.0390,1)" font-family="Liberation Serif" font-weight="normal" font-size="13.29" fill="#000000">6</text>
<text transform="translate(291.44,1191.9) scale(1.1768,1)" font-family="Liberation Serif" font-weight="normal" font-size="12.37" fill="#000000">7</text>
<text transform="translate(291.87,1205.7) scale(1.1154,1)" font-family="Liberation Serif" font-weight="normal" font-size="12.48" fill="#000000">0</text>
<rect x="308.5" y="1097.5" width="166" height="138" stroke="#800000" stroke-width="1" fill="#FFFFB0"/>
<text transform="translate(308.7,1248.08) scale(0.8849,1)" font-family="Liberation Serif" font-weight="normal" font-size="14.15" fill="#000080">TPS54560-Q1</text>
<text transform="translate(313.44,1115.63) scale(0.8722,1)" font-family="Liberation Serif" font-weight="normal" font-size="14.04" fill="#000000">VIN</text>
<text transform="translate(312.58,1144.07) scale(0.9151,1)" font-family="Liberation Serif" font-weight="normal" font-size="13.88" fill="#000000">EN</text>
<text transform="translate(312.59,1157.7) scale(0.8911,1)" font-family="Liberation Serif" font-weight="normal" font-size="13.73" fill="#000000">RT/CLK</text>
<text transform="translate(312.42,1171.44) scale(0.9283,1)" font-family="Liberation Serif" font-weight="normal" font-size="13.73" fill="#000000">COMP</text>
<text transform="translate(312.42,1198.82) scale(0.9160,1)" font-family="Liberation Serif" font-weight="normal" font-size="13.89" fill="#000000">GND</text>
<text transform="translate(312.72,1212.46) scale(0.9063,1)" font-family="Liberation Serif" font-weight="normal" font-size="13.88" fill="#000000">TP</text>
<text transform="translate(451.85,1115.63) scale(0.9420,1)" font-family="Liberation Serif" font-weight="normal" font-size="13.25" fill="#000000">SW</text>
<text transform="translate(436.46,1157.91) scale(0.9070,1)" font-family="Liberation Serif" font-weight="normal" font-size="13.89" fill="#000000">BOOT</text>
<text transform="translate(455.59,1199.03) scale(0.9504,1)" font-family="Liberation Serif" font-weight="normal" font-size="13.4" fill="#000000">FB</text>
<text transform="translate(443.96,1213.72) scale(0.8860,1)" font-family="Liberation Serif" font-weight="normal" font-size="14.15" fill="#000080">0.8V</text>
<polyline points="335.5,1110.5 384.5,1110.5 384.5,1119.5" stroke="#000000" stroke-width="1" fill="none" stroke-linejoin="miter"/>
<polyline points="450.5,1110.5 398.5,1110.5 398.5,1118.5" stroke="#000000" stroke-width="1" fill="none" stroke-linejoin="miter"/>
<line x1="411.5" y1="1110.94" x2="411.5" y2="1119.39" stroke="#000000" stroke-width="1"/>
<polygon points="383.34,1119.92 384.19,1118.97 412.51,1118.97 414.63,1120.82 412.51,1122.67 384.19,1122.67 383.34,1121.72" stroke="#006400" stroke-width="0.3" fill="#006400" stroke-linejoin="miter"/>
<polygon points="395.92,1115.06 401.84,1115.06 398.88,1118.97" stroke="#006400" stroke-width="0.8" fill="#006400" stroke-linejoin="miter"/>
<line x1="387.04" y1="1125.5" x2="409.24" y2="1125.5" stroke="#000000" stroke-width="1"/>
<line x1="398.5" y1="1125.52" x2="398.5" y2="1133.03" stroke="#000000" stroke-width="1"/>
<rect x="363.5" y="1133.5" width="56" height="46" stroke="#4A86E8" stroke-width="1" fill="#C9DAF4"/>
<text transform="translate(372.09,1162.04) scale(0.8989,1)" font-family="Liberation Serif" font-weight="normal" font-size="14.21" fill="#000080">LOGIC</text>
<line x1="332.61" y1="1138.5" x2="364" y2="1138.5" stroke="#000000" stroke-width="1"/>
<line x1="356.92" y1="1151.5" x2="364" y2="1151.5" stroke="#000000" stroke-width="1"/>
<line x1="350.26" y1="1165.5" x2="364" y2="1165.5" stroke="#000000" stroke-width="1"/>
<polyline points="341.5,1193.5 369.5,1193.5 369.5,1179.5" stroke="#000000" stroke-width="1" fill="none" stroke-linejoin="miter"/>
<polyline points="328.59,1209.02 334.93,1209.02 337.15,1205.75 339.69,1210.82 342.44,1205.75 345.18,1210.82 347.93,1205.75 350.68,1210.82 353.11,1206.91 369.92,1206.91 369.92,1193.49" stroke="#000000" stroke-width="1" fill="none" stroke-linejoin="miter"/>
<line x1="419.6" y1="1151.5" x2="433.34" y2="1151.5" stroke="#000000" stroke-width="1"/>
<polyline points="400.5,1181.5 400.5,1200.5 413.5,1200.5" stroke="#000000" stroke-width="1" fill="none" stroke-linejoin="miter"/>
<polygon points="413.36,1200.57 432.91,1190 432.91,1210.93" stroke="#1E50FF" stroke-width="1" fill="#C0C0C0" stroke-linejoin="miter"/>
<line x1="427.52" y1="1195.5" x2="430.27" y2="1195.5" stroke="#000000" stroke-width="1"/>
<line x1="427.52" y1="1205.5" x2="430.27" y2="1205.5" stroke="#000000" stroke-width="1"/>
<line x1="428.5" y1="1204.59" x2="428.5" y2="1207.33" stroke="#000000" stroke-width="1"/>
<line x1="432.91" y1="1193.5" x2="453.31" y2="1193.5" stroke="#000000" stroke-width="1"/>
<line x1="432.91" y1="1207.5" x2="442.74" y2="1207.5" stroke="#000000" stroke-width="1"/>
<text transform="translate(308.63,1095.4) scale(0.9162,1)" font-family="Liberation Serif" font-weight="normal" font-size="14.13" fill="#000080">U09</text>
<text transform="translate(281.71,1066.8) scale(1.0533,1)" font-family="Liberation Serif" font-weight="bold" font-size="16.31" fill="#000080">POWER-ON BATTERY USE</text>
<polygon points="480.9,1108.9 474.4,1111.3 480.9,1113.7" stroke="#000000" stroke-width="1" fill="#FFFFFF" stroke-linejoin="miter"/>
<line x1="481" y1="1111.5" x2="502.7" y2="1111.5" stroke="#000000" stroke-width="1"/>
<line x1="502.7" y1="1111.5" x2="598.6" y2="1111.5" stroke="#000080" stroke-width="1"/>
<line x1="474.4" y1="1153.5" x2="502.7" y2="1153.5" stroke="#000000" stroke-width="1"/>
<polyline points="502.5,1153.5 515.5,1153.5 515.5,1134.5" stroke="#000080" stroke-width="1" fill="none" stroke-linejoin="miter"/>
<polygon points="480.9,1191.9 474.4,1194.3 480.9,1196.7" stroke="#000000" stroke-width="1" fill="#FFFFFF" stroke-linejoin="miter"/>
<line x1="481" y1="1194.5" x2="502.7" y2="1194.5" stroke="#000000" stroke-width="1"/>
<line x1="502.7" y1="1194.5" x2="667.3" y2="1194.5" stroke="#000080" stroke-width="1"/>
<text transform="translate(485.46,1109.1) scale(0.9264,1)" font-family="Liberation Serif" font-weight="normal" font-size="12.48" fill="#000000">8</text>
<text transform="translate(485.15,1150) scale(0.9266,1)" font-family="Liberation Serif" font-weight="normal" font-size="12.88" fill="#000000">1</text>
<text transform="translate(485.14,1191.6) scale(1.0769,1)" font-family="Liberation Serif" font-weight="normal" font-size="12.22" fill="#000000">5</text>
<circle cx="515.5" cy="1111.5" r="3.4" fill="#000080"/>
<line x1="515.5" y1="1111.3" x2="515.5" y2="1129" stroke="#000000" stroke-width="1"/>
<line x1="504.4" y1="1129.5" x2="526.8" y2="1129.5" stroke="#008000" stroke-width="1"/>
<line x1="504.4" y1="1134.5" x2="526.8" y2="1134.5" stroke="#008000" stroke-width="1"/>
<text transform="translate(528.05,1136.9) scale(1.0533,1)" font-family="Liberation Mono" font-weight="bold" font-size="10.91" fill="#000080" stroke="#000080" stroke-width="0.2">CBO4</text>
<text transform="translate(528.32,1147.6) scale(1.0307,1)" font-family="Liberation Mono" font-weight="bold" font-size="11.21" fill="#000080" stroke="#000080" stroke-width="0.2">1OOnF</text>
<circle cx="570.5" cy="1111.5" r="3.4" fill="#000080"/>
<line x1="570.5" y1="1111.3" x2="570.5" y2="1128.2" stroke="#000000" stroke-width="1"/>
<polygon points="570.5,1128.5 562.5,1136.5 578.5,1136.5" stroke="#008000" stroke-width="1" fill="#EBEBEB" stroke-linejoin="miter"/>
<polyline points="563.5,1131.5 562.5,1131.5 562.5,1128.5 579.5,1128.5 579.5,1125.5 577.5,1125.5" stroke="#008000" stroke-width="1" fill="none" stroke-linejoin="miter"/>
<line x1="570.5" y1="1136.1" x2="570.5" y2="1153.4" stroke="#000000" stroke-width="1"/>
<line x1="570.5" y1="1153.4" x2="570.5" y2="1166.3" stroke="#800000" stroke-width="1"/>
<line x1="557" y1="1166.5" x2="584.6" y2="1166.5" stroke="#800000" stroke-width="1"/>
<line x1="561.01" y1="1170.5" x2="580.58" y2="1170.5" stroke="#800000" stroke-width="1"/>
<line x1="565.13" y1="1174.5" x2="576.46" y2="1174.5" stroke="#800000" stroke-width="1"/>
<line x1="569.15" y1="1178.5" x2="572.45" y2="1178.5" stroke="#800000" stroke-width="1"/>
<text transform="translate(579.28,1133) scale(1.2212,1)" font-family="Liberation Mono" font-weight="bold" font-size="10.17" fill="#000080" stroke="#000080" stroke-width="0.2">DO3</text>
<text transform="translate(580.32,1144) scale(1.0927,1)" font-family="Liberation Mono" font-weight="bold" font-size="10.61" fill="#000080" stroke="#000080" stroke-width="0.2">B56OC</text>
<text transform="translate(604.1,1091.3) scale(1.0993,1)" font-family="Liberation Mono" font-weight="bold" font-size="10.61" fill="#000080" stroke="#000080" stroke-width="0.2">LO5</text>
<line x1="609.2" y1="1095.5" x2="657.1" y2="1095.5" stroke="#000000" stroke-width="1"/>
<line x1="609.2" y1="1099.5" x2="657.1" y2="1099.5" stroke="#000000" stroke-width="1"/>
<circle cx="605.5" cy="1104.5" r="2.7" fill="#0000FF"/>
<line x1="598.6" y1="1111.5" x2="612" y2="1111.5" stroke="#000000" stroke-width="1"/>
<path d="M612 1111.5 c0 -4.02 0.52 -5.03 2.3 -5.03 l5.87 0 c1.78 0 2.3 1.01 2.3 5.03 c0 -4.02 0.52 -5.03 2.3 -5.03 l5.87 0 c1.78 0 2.3 1.01 2.3 5.03 c0 -4.02 0.52 -5.03 2.3 -5.03 l5.87 0 c1.78 0 2.3 1.01 2.3 5.03 c0 -4.02 0.52 -5.03 2.3 -5.03 l5.87 0 c1.78 0 2.3 1.01 2.3 5.03" stroke="#008000" stroke-width="1" fill="none"/>
<line x1="653.9" y1="1111.5" x2="663.8" y2="1111.5" stroke="#000000" stroke-width="1"/>
<polyline points="663.5,1111.5 695.5,1111.5 695.5,1097.5" stroke="#000080" stroke-width="1" fill="none" stroke-linejoin="miter"/>
<line x1="695.5" y1="1097.6" x2="695.5" y2="1106" stroke="#800000" stroke-width="1"/>
<line x1="688.3" y1="1097.5" x2="701.7" y2="1097.5" stroke="#800000" stroke-width="1"/>
<text transform="translate(675.66,1095.1) scale(1.0201,1)" font-family="Liberation Serif" font-weight="normal" font-size="12.52" fill="#800000">+5VHP</text>
<text transform="translate(604.47,1124.9) scale(1.2295,1)" font-family="Liberation Mono" font-weight="bold" font-size="10.02" fill="#000080" stroke="#000080" stroke-width="0.2">1OμH</text>
<circle cx="667.5" cy="1111.5" r="3.4" fill="#000080"/>
<line x1="667.5" y1="1111.1" x2="667.5" y2="1140.2" stroke="#000080" stroke-width="1"/>
<line x1="667.5" y1="1140.2" x2="667.5" y2="1153.3" stroke="#000000" stroke-width="1"/>
<rect x="663.5" y="1153.5" width="8" height="27" stroke="#008000" stroke-width="1" fill="#FFFFFF" fill-opacity="0.6"/>
<text transform="translate(669.4,1171.61) rotate(-90) scale(1.0739,1)" font-family="Liberation Sans" font-weight="normal" font-size="5.91" fill="#5C5CB8">1%</text>
<line x1="667.5" y1="1180.5" x2="667.5" y2="1208.3" stroke="#000000" stroke-width="1"/>
<circle cx="667.5" cy="1194.5" r="3.4" fill="#000080"/>
<rect x="663.5" y="1208.5" width="8" height="27" stroke="#008000" stroke-width="1" fill="#FFFFFF" fill-opacity="0.6"/>
<text transform="translate(669.4,1226.75) rotate(-90) scale(1.0818,1)" font-family="Liberation Sans" font-weight="normal" font-size="5.91" fill="#5C5CB8">1%</text>
<line x1="667.5" y1="1235.7" x2="667.5" y2="1248.6" stroke="#000000" stroke-width="1"/>
<line x1="667.5" y1="1248.6" x2="667.5" y2="1263.5" stroke="#800000" stroke-width="1"/>
<line x1="653.7" y1="1263.5" x2="681.3" y2="1263.5" stroke="#800000" stroke-width="1"/>
<line x1="657.72" y1="1267.5" x2="677.28" y2="1267.5" stroke="#800000" stroke-width="1"/>
<line x1="661.84" y1="1271.5" x2="673.16" y2="1271.5" stroke="#800000" stroke-width="1"/>
<line x1="665.85" y1="1275.5" x2="669.15" y2="1275.5" stroke="#800000" stroke-width="1"/>
<text transform="translate(672.08,1160.3) scale(1.2297,1)" font-family="Liberation Mono" font-weight="bold" font-size="10.02" fill="#000080" stroke="#000080" stroke-width="0.2">RBO9</text>
<text transform="translate(672.8,1171.3) scale(1.2045,1)" font-family="Liberation Mono" font-weight="bold" font-size="9.8" fill="#000080" stroke="#000080" stroke-width="0.2">53.6kΩ</text>
<text transform="translate(672.09,1216) scale(1.1478,1)" font-family="Liberation Mono" font-weight="bold" font-size="10.61" fill="#000080" stroke="#000080" stroke-width="0.2">RB1O</text>
<text transform="translate(672.6,1226.9) scale(1.2102,1)" font-family="Liberation Mono" font-weight="bold" font-size="9.8" fill="#000080" stroke="#000080" stroke-width="0.2">1O.2kΩ</text>
</svg>
</body></html>
